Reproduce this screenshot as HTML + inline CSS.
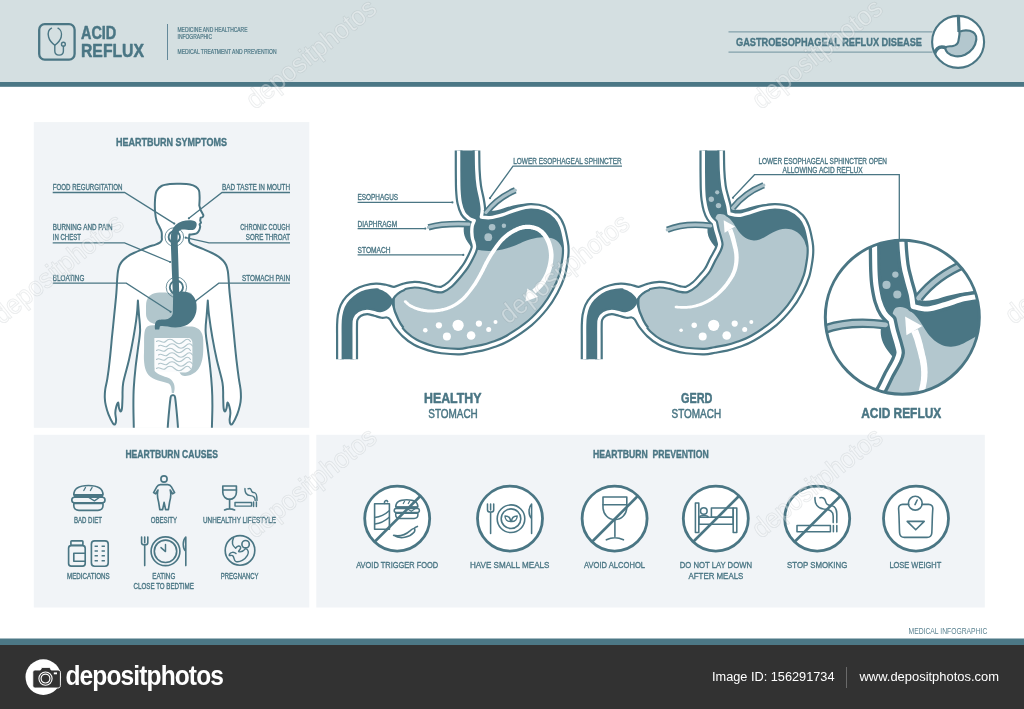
<!DOCTYPE html>
<html lang="en"><head><meta charset="utf-8"><title>Acid Reflux - Gastroesophageal Reflux Disease</title>
<style>
html,body{margin:0;padding:0;background:#fff;}
body{width:1024px;height:709px;overflow:hidden;}
svg{display:block;will-change:transform;font-family:"Liberation Sans",sans-serif;}
</style></head><body>
<svg width="1024" height="709" viewBox="0 0 1024 709">
<rect x="0" y="0" width="1024" height="709" fill="#ffffff"/>
<rect x="0" y="0" width="1024" height="83" fill="#d4dfe1"/>
<rect x="0" y="82" width="1024" height="4.8" fill="#4b7785"/>
<rect x="39.2" y="24.2" width="35.4" height="35.4" rx="5.5" fill="none" stroke="#4a7684" stroke-width="2.3"/>
<g fill="none" stroke="#4a7684" stroke-width="1.4" stroke-linecap="round"><path d="M51.5,28.2 C49,29.5 47.6,33 48.6,37 C49.6,41 52.5,43.5 54.8,45.2 C57.1,43.5 60.2,41 61.2,37 C62.2,33 60.5,29.5 58,28.2"/><path d="M54.8,45.2 L54.8,51 C54.8,56.5 63.4,56.5 63.4,51 L63.4,46.2"/><circle cx="63.4" cy="44.2" r="1.9"/></g>
<text x="81.0" y="38.8" font-size="17.7" font-weight="bold" fill="#4a7684" stroke="#4a7684" stroke-width="0.5" stroke-linejoin="round" textLength="35.3" lengthAdjust="spacingAndGlyphs">ACID</text>
<text x="81.0" y="56.6" font-size="17.7" font-weight="bold" fill="#4a7684" stroke="#4a7684" stroke-width="0.5" stroke-linejoin="round" textLength="63.0" lengthAdjust="spacingAndGlyphs">REFLUX</text>
<rect x="167" y="24" width="1" height="36" fill="#64899a"/>
<text x="177.5" y="31.6" font-size="6.6" fill="#4a7684" stroke="#4a7684" stroke-width="0.2" stroke-linejoin="round" textLength="70.0" lengthAdjust="spacingAndGlyphs">MEDICINE AND HEALTHCARE</text>
<text x="177.5" y="39.0" font-size="6.6" fill="#4a7684" stroke="#4a7684" stroke-width="0.2" stroke-linejoin="round" textLength="34.5" lengthAdjust="spacingAndGlyphs">INFOGRAPHIC</text>
<text x="177.5" y="54.0" font-size="6.6" fill="#4a7684" stroke="#4a7684" stroke-width="0.2" stroke-linejoin="round" textLength="99.0" lengthAdjust="spacingAndGlyphs">MEDICAL TREATMENT AND PREVENTION</text>
<rect x="728.5" y="31.4" width="204" height="1" fill="#6f929d"/>
<rect x="728.5" y="51.6" width="204" height="1" fill="#6f929d"/>
<text x="736.0" y="45.6" font-size="10.6" font-weight="bold" fill="#4a7684" stroke="#4a7684" stroke-width="0.35" stroke-linejoin="round" textLength="186.0" lengthAdjust="spacingAndGlyphs">GASTROESOPHAGEAL REFLUX DISEASE</text>
<circle cx="958.1" cy="41.9" r="26" fill="#ffffff" stroke="#4a7684" stroke-width="2.1"/>
<rect x="33.8" y="122.1" width="275.5" height="305.7" fill="#f1f4f7"/>
<rect x="33.8" y="434.8" width="275.5" height="172.7" fill="#f1f4f7"/>
<rect x="316.3" y="434.8" width="668.5" height="172.7" fill="#f1f4f7"/>
<text x="116.0" y="145.5" font-size="10.1" font-weight="bold" fill="#4a7684" stroke="#4a7684" stroke-width="0.35" stroke-linejoin="round" textLength="111.0" lengthAdjust="spacingAndGlyphs">HEARTBURN SYMPTOMS</text>
<text x="125.4" y="457.8" font-size="10.1" font-weight="bold" fill="#4a7684" stroke="#4a7684" stroke-width="0.35" stroke-linejoin="round" textLength="92.5" lengthAdjust="spacingAndGlyphs">HEARTBURN CAUSES</text>
<text x="593.0" y="457.8" font-size="10.1" font-weight="bold" fill="#4a7684" stroke="#4a7684" stroke-width="0.35" stroke-linejoin="round" textLength="115.7" lengthAdjust="spacingAndGlyphs" style="white-space:pre">HEARTBURN  PREVENTION</text>
<defs><clipPath id="sp"><rect x="33.8" y="122.1" width="275.5" height="305.7"/></clipPath></defs>
<g clip-path="url(#sp)">
<path d="M161.8,237.7C161.8,236.8 162.0,233.8 161.6,232.0C161.2,230.2 160.3,228.8 159.5,227.0C158.7,225.2 157.3,223.5 156.6,221.0C155.9,218.5 155.4,215.5 155.1,212.0C154.8,208.5 154.8,203.5 155.0,200.0C155.2,196.5 155.5,193.3 156.6,191.0C157.7,188.7 159.3,187.2 161.5,186.0C163.7,184.8 166.9,184.4 170.0,184.0C173.1,183.6 176.7,183.6 180.0,183.7C183.3,183.8 187.3,183.9 190.0,184.4C192.7,184.9 194.5,185.8 196.0,186.8C197.5,187.8 198.4,188.8 199.0,190.5C199.6,192.2 199.5,194.5 199.6,197.0C199.7,199.5 199.4,204.1 199.3,205.5L200.6,210 L203.3,215 C203.6,216.6 202.6,217.6 200.6,217.8 L200.2,220.5 L201,222.6 L199.6,224.4 L200.2,226.6 C199.8,229.6 199,231.8 196.6,233.3 C194.6,234.4 191.8,234.3 189.4,234.6 L188.9,240L188.9,240.0C189.0,240.4 189.0,241.8 189.6,242.6C190.2,243.4 191.1,243.9 192.5,244.6C193.9,245.3 195.9,246.1 198.0,247.0C200.1,247.9 202.7,248.8 205.0,249.8C207.3,250.8 209.8,251.9 212.0,253.0C214.2,254.1 216.7,255.4 218.5,256.6C220.3,257.9 221.7,259.1 223.0,260.5C224.3,261.9 225.3,263.2 226.1,265.0C226.9,266.8 227.4,268.7 227.8,271.0C228.2,273.3 228.3,275.4 228.6,279.0C228.9,282.6 229.0,286.6 229.6,292.6C230.2,298.6 231.2,307.6 232.0,315.1C232.8,322.6 233.4,330.2 234.2,337.7C234.9,345.2 235.7,353.5 236.5,360.3C237.3,367.1 238.1,373.4 238.8,378.3C239.5,383.2 240.2,386.3 240.6,389.6C240.9,392.9 241.0,395.4 240.9,398.0C240.8,400.6 240.5,402.7 239.9,405.4C239.3,408.1 238.4,411.4 237.2,414.4C236.0,417.4 233.8,421.9 232.7,423.5C231.6,425.1 231.0,424.6 230.5,424.0C230.0,423.4 229.6,421.8 229.6,420.0C229.6,418.2 230.4,415.2 230.4,413.0C230.4,410.8 230.0,408.8 229.5,407.0C229.0,405.2 228.0,402.3 227.5,402.5C227.0,402.7 227.0,406.5 226.6,408.0C226.2,409.5 225.5,411.5 225.0,411.5C224.5,411.5 223.9,410.2 223.6,408.0C223.3,405.8 223.4,402.2 223.2,398.0C223.0,393.8 223.6,389.1 222.5,382.8C221.4,376.5 218.6,367.8 216.9,360.3C215.2,352.8 213.7,345.2 212.4,337.7C211.1,330.2 209.8,321.3 209.0,315.1C208.2,308.9 208.0,302.9 207.8,300.5L207.8,300.5C207.6,302.9 207.1,310.0 206.7,315.1C206.3,320.2 205.4,325.4 205.6,331.0C205.8,336.6 207.1,343.0 207.8,349.0C208.6,355.0 209.4,360.6 210.1,367.0C210.8,373.4 211.5,381.0 211.9,387.4C212.3,393.8 212.4,398.6 212.4,405.4C212.4,412.2 212.0,422.2 211.9,428.0C211.8,433.8 211.9,438.0 211.9,440.0L178.6,440.0C178.5,438.0 178.3,433.0 178.0,428.0C177.7,423.0 177.0,415.1 176.5,410.0C176.0,404.9 175.5,399.9 175.1,397.5C174.7,395.1 174.6,396.0 174.2,395.6C173.8,395.2 173.1,395.3 172.9,395.2L172.9,395.2C172.7,395.3 172.0,395.2 171.6,395.6C171.2,396.0 171.0,395.1 170.6,397.5C170.2,399.9 169.7,404.9 169.2,410.0C168.7,415.1 168.0,423.0 167.7,428.0C167.3,433.0 167.2,438.0 167.1,440.0L133.8,440.0C133.8,438.0 133.9,433.8 133.8,428.0C133.7,422.2 133.4,412.2 133.4,405.4C133.4,398.6 133.4,393.8 133.8,387.4C134.2,381.0 134.9,373.4 135.6,367.0C136.3,360.6 137.2,355.0 137.9,349.0C138.7,343.0 139.9,336.6 140.1,331.0C140.3,325.4 139.4,320.2 139.0,315.1C138.6,310.0 138.1,302.9 137.9,300.5L137.9,300.5C137.7,302.9 137.6,308.9 136.8,315.1C136.1,321.3 134.7,330.2 133.4,337.7C132.1,345.2 130.6,352.8 128.9,360.3C127.2,367.8 124.3,376.5 123.2,382.8C122.1,389.1 122.7,393.8 122.5,398.0C122.3,402.2 122.3,405.8 122.0,408.0C121.7,410.2 121.1,411.5 120.6,411.5C120.1,411.5 119.4,409.5 119.0,408.0C118.6,406.5 118.7,402.7 118.2,402.5C117.7,402.3 116.7,405.2 116.2,407.0C115.7,408.8 115.3,410.8 115.3,413.0C115.3,415.2 116.1,418.2 116.1,420.0C116.1,421.8 115.7,423.4 115.2,424.0C114.7,424.6 114.1,425.1 113.0,423.5C111.9,421.9 109.7,417.4 108.5,414.4C107.3,411.4 106.4,408.1 105.8,405.4C105.2,402.7 104.9,400.6 104.8,398.0C104.7,395.4 104.8,392.9 105.2,389.6C105.6,386.3 106.7,383.2 107.4,378.3C108.2,373.4 109.0,367.1 109.7,360.3C110.5,353.5 111.2,345.2 111.9,337.7C112.7,330.2 113.5,322.6 114.2,315.1C115.0,307.6 115.9,298.6 116.4,292.6C116.9,286.6 116.9,282.6 117.2,279.0C117.5,275.4 117.6,273.3 118.0,271.0C118.4,268.7 118.9,266.8 119.7,265.0C120.5,263.2 121.5,261.9 122.8,260.5C124.1,259.1 125.5,257.9 127.3,256.6C129.1,255.4 131.5,254.1 133.8,253.0C136.1,251.9 138.6,250.8 141.0,249.8C143.4,248.8 145.6,247.9 148.0,247.0C150.4,246.1 153.5,245.3 155.5,244.6C157.5,243.9 158.8,243.4 159.8,242.6C160.9,241.8 161.5,240.8 161.8,240.0C162.1,239.2 161.8,238.1 161.8,237.7Z" fill="#ffffff" stroke="#4a7684" stroke-width="2" stroke-linejoin="round"/>
<path d="M146,306 C146,298 150,293.5 157,292.8 C164,292.2 170,293 176,294 L176,322 C170,324.5 162,324.5 156,324 C150,323.5 146.2,320 146,314Z" fill="#b1c6cc"/>
<path d="M186,292.6 C189,291.6 192,292.6 192.4,295.6 L192,300 L186,300Z" fill="#b1c6cc"/>
<path d="M148.5,375 C144.5,370 143.5,362 144,352 C144.4,344 143.5,336 145,330 C146.5,325.6 150,324.6 156,325.4 C166,326.6 184,325.6 192,326.6 C199,327.6 203,332 203.2,340 C203.4,350 203.6,358 200.6,365 C198,371 194,374 188.6,375.6 C184,377 180,375 179.6,372 L179.6,338 L154.6,338 L154.6,371 C158,375 164,376 168.6,378 C172.6,380 175,384 174.6,389 L174,393 L171.8,393 C171.6,389 171.4,385.6 168.6,383.6 C163,381 153,380.6 148.5,375Z" fill="#b1c6cc"/>
<path d="M154.6,338 L188,338 C191,338 192.4,340 192.4,343 L192.4,364 C192.4,369 189,372.6 184,372.6 L160,371.6 C156.6,371.4 154.6,369 154.6,366Z" fill="#fbfcfd"/>
<path d="M156.5,341.5 c3,-3 6,3 9,0 s6,-3 9,0 s6,3 9,0 s5,-3 7,0 M158.5,346 c3,-3 6,3 9,0 s6,-3 9,0 s6,3 9,0 s5,-3 7,0 M156.5,350.5 c3,-3 6,3 9,0 s6,-3 9,0 s6,3 9,0 s5,-3 7,0 M158.5,355 c3,-3 6,3 9,0 s6,-3 9,0 s6,3 9,0 s5,-3 7,0 M156.5,359.5 c3,-3 6,3 9,0 s6,-3 9,0 s6,3 9,0 s5,-3 7,0 M158.5,364 c3,-3 6,3 9,0 s6,-3 9,0 s6,3 9,0 s5,-3 7,0 M156.5,368.5 c3,-3 6,3 9,0 s6,-3 9,0 s6,3 9,0 s5,-3 7,0 " fill="none" stroke="#b1c6cc" stroke-width="1.1" stroke-linecap="round"/>
<path d="M196.6,223.6 C197,226 195.5,229.6 192.5,230 C188,230.6 183.5,228.6 180.5,230 C177.8,231.6 177.5,235 177.6,239 L178.6,270 L179.2,293 L172.8,293 L171.8,270 L170.7,240 C170.5,234 172,228.5 175.6,225 C179.6,221.4 184.5,220.2 189.5,220.2 C193.5,220.2 196.2,221 196.6,223.6Z" fill="#4a7684"/>
<path d="M173.2,292 L179,292 C183,291 188,291.6 191.6,294.6 C195.6,298 197,303 196.6,309 C196,317 191.6,323 185.6,325.6 C180,328 173,327.8 167.6,326.6 C164.6,326 162,325.6 160,326.2 C159.5,327.2 159.6,328.6 159.2,329.4 L155,329.4 C154.6,326.6 154.6,323 156.4,321 C158.4,319 162,319.6 165,319.4 C169,319.2 172.2,317 172.8,313 Z" fill="#4a7684"/>
<circle cx="174.3" cy="237" r="5.7" fill="none" stroke="#4a7684" stroke-width="1.9"/>
<circle cx="174.3" cy="237" r="9.3" fill="none" stroke="#4a7684" stroke-width="0.8"/>
<circle cx="176.4" cy="287.3" r="6.6" fill="none" stroke="#4a7684" stroke-width="1.9"/>
<circle cx="176.4" cy="287.3" r="10.2" fill="none" stroke="#4a7684" stroke-width="0.8"/>
</g>
<text x="52.7" y="190.3" font-size="8.4" fill="#4a7684" stroke="#4a7684" stroke-width="0.35" stroke-linejoin="round" textLength="69.7" lengthAdjust="spacingAndGlyphs">FOOD REGURGITATION</text>
<path d="M52.7,192.5 H124.6 L174.3,223.6" stroke="#4a7684" stroke-width="1.3" fill="none"/><circle cx="174.3" cy="223.6" r="1.1" fill="#4a7684"/>
<text x="52.7" y="230.2" font-size="8.4" fill="#4a7684" stroke="#4a7684" stroke-width="0.35" stroke-linejoin="round" textLength="59.8" lengthAdjust="spacingAndGlyphs">BURNING AND PAIN</text>
<text x="52.7" y="239.9" font-size="8.4" fill="#4a7684" stroke="#4a7684" stroke-width="0.35" stroke-linejoin="round" textLength="28.3" lengthAdjust="spacingAndGlyphs">IN CHEST</text>
<path d="M52.7,242.8 H124.6 L170.2,262" stroke="#4a7684" stroke-width="1.3" fill="none"/><circle cx="170.2" cy="262" r="1.1" fill="#4a7684"/>
<text x="52.7" y="281.0" font-size="8.4" fill="#4a7684" stroke="#4a7684" stroke-width="0.35" stroke-linejoin="round" textLength="31.7" lengthAdjust="spacingAndGlyphs">BLOATING</text>
<path d="M52.7,283.2 H126.3 L170.6,311.8" stroke="#4a7684" stroke-width="1.3" fill="none"/><circle cx="170.6" cy="311.8" r="1.1" fill="#4a7684"/>
<text x="222.0" y="190.3" font-size="8.4" fill="#4a7684" stroke="#4a7684" stroke-width="0.35" stroke-linejoin="round" textLength="68.0" lengthAdjust="spacingAndGlyphs">BAD TASTE IN MOUTH</text>
<path d="M290,192.5 H222 L188.9,218.3" stroke="#4a7684" stroke-width="1.3" fill="none"/><circle cx="188.9" cy="218.3" r="1.1" fill="#4a7684"/>
<text x="240.2" y="230.2" font-size="8.4" fill="#4a7684" stroke="#4a7684" stroke-width="0.35" stroke-linejoin="round" textLength="49.8" lengthAdjust="spacingAndGlyphs">CHRONIC COUGH</text>
<text x="245.8" y="239.9" font-size="8.4" fill="#4a7684" stroke="#4a7684" stroke-width="0.35" stroke-linejoin="round" textLength="44.2" lengthAdjust="spacingAndGlyphs">SORE THROAT</text>
<path d="M290,242.8 H209 L185.7,237.7" stroke="#4a7684" stroke-width="1.3" fill="none"/><circle cx="185.7" cy="237.7" r="1.1" fill="#4a7684"/>
<text x="242.0" y="281.0" font-size="8.4" fill="#4a7684" stroke="#4a7684" stroke-width="0.35" stroke-linejoin="round" textLength="48.0" lengthAdjust="spacingAndGlyphs">STOMACH PAIN</text>
<path d="M290,283.2 H218.8 L195.5,301" stroke="#4a7684" stroke-width="1.3" fill="none"/><circle cx="195.5" cy="301" r="1.1" fill="#4a7684"/>
<g id="healthy"><g transform="translate(0,0)">
<defs><clipPath id="cut1"><rect x="320" y="150.6" width="270" height="208.6"/></clipPath><clipPath id="in1"><path d="M458.6,146.0C458.6,150.0 458.6,162.7 458.6,170.0C458.7,177.3 458.6,184.5 458.9,190.0C459.2,195.5 459.5,199.2 460.3,203.0C461.1,206.8 462.4,210.5 463.8,213.0C465.2,215.5 466.8,216.7 468.5,218.0C470.2,219.3 473.2,220.2 474.2,220.6L474.2,220.6C473.9,221.5 472.6,224.1 472.2,226.0C471.8,227.9 471.8,229.9 471.8,232.0C471.9,234.1 472.1,236.6 472.5,238.5C472.9,240.4 473.7,242.1 474.0,243.5C474.3,244.9 474.6,245.8 474.5,247.0C474.4,248.2 474.1,249.3 473.4,251.0C472.7,252.7 471.6,255.1 470.5,257.3C469.4,259.5 467.9,262.4 466.6,264.4C465.4,266.4 464.4,267.7 463.0,269.5C461.6,271.3 460.7,272.7 458.5,275.2C456.3,277.7 452.8,282.0 450.0,284.4C447.2,286.8 444.6,288.6 442.0,289.4C439.4,290.1 437.4,289.4 434.6,288.9C431.9,288.4 428.9,286.9 425.5,286.2C422.1,285.5 418.2,284.6 414.5,284.7C410.8,284.8 406.7,285.8 403.3,286.6C399.9,287.4 397.2,289.5 394.2,289.6C391.3,289.8 388.5,288.0 385.5,287.5C382.5,287.0 379.5,286.4 376.1,286.5C372.7,286.6 368.6,287.3 365.3,288.2C362.0,289.1 359.0,290.4 356.2,292.1C353.4,293.9 350.5,296.3 348.3,298.7C346.1,301.1 344.5,303.5 343.2,306.3C341.9,309.1 341.2,312.5 340.6,315.6C340.1,318.7 340.0,320.9 339.9,325.0C339.8,329.1 339.9,333.5 339.9,340.0C339.9,346.5 339.9,360.0 339.9,364.0L354.2,364.0C354.2,360.0 354.2,346.3 354.2,340.0C354.2,333.7 354.1,329.5 354.2,326.0C354.3,322.5 354.0,320.9 354.9,318.8C355.8,316.7 357.6,314.6 359.6,313.4C361.6,312.2 364.5,311.5 367.0,311.4C369.5,311.3 372.3,312.4 374.8,313.0C377.3,313.6 379.9,314.7 382.0,315.0C384.1,315.3 385.8,314.1 387.5,314.6C389.2,315.1 390.8,316.0 392.3,317.8C393.8,319.6 394.6,322.4 396.7,325.2C398.8,327.9 401.5,331.4 404.6,334.3C407.7,337.2 411.3,340.1 415.4,342.3C419.4,344.5 424.5,346.3 428.9,347.7C433.2,349.1 436.4,349.9 441.5,350.5C446.6,351.1 454.8,351.7 459.5,351.6C464.2,351.5 466.3,350.6 470.0,350.0C473.7,349.4 477.8,348.8 481.7,347.9C485.6,347.0 489.0,346.0 493.4,344.4C497.8,342.8 501.9,341.7 508.0,338.1C514.1,334.5 523.9,328.0 530.0,322.9C536.1,317.8 540.6,312.6 544.8,307.4C549.0,302.2 552.2,296.8 555.0,291.6C557.8,286.4 560.1,281.3 561.8,276.0C563.5,270.7 564.3,264.3 565.0,260.0C565.7,255.7 565.8,252.9 565.8,250.0C565.8,247.1 565.8,246.2 565.1,242.3C564.4,238.4 563.0,231.0 561.5,226.8C560.0,222.6 558.7,219.9 555.9,217.0C553.1,214.1 548.8,210.9 544.6,209.2C540.4,207.5 535.2,206.8 530.5,206.9C525.8,207.0 521.1,208.6 516.4,209.9C511.7,211.2 506.7,213.5 502.3,214.8C497.9,216.1 493.5,217.2 490.0,217.6C486.5,218.0 482.8,217.1 481.3,217.0L481.3,217.0C481.5,215.7 482.4,212.1 482.3,209.0C482.2,205.9 481.5,202.3 480.8,198.5C480.1,194.7 478.9,190.8 478.2,186.0C477.5,181.2 477.1,176.7 476.8,170.0C476.5,163.3 476.5,150.0 476.4,146.0Z"/></clipPath></defs>
<g clip-path="url(#cut1)">
<path d="M483,209 C488,212 496,211 503,208.5 C512,205.5 520,203.5 530,203.6 L530,208 L500,218 L482,219Z" fill="#4a7684"/>
<path d="M467,221 C463.4,224 463,230 464.6,236 C466,240.5 469,243.8 471.6,247.4 L475,246 L474,222Z" fill="#4a7684"/>
<path d="M458.6,146.0C458.6,150.0 458.6,162.7 458.6,170.0C458.7,177.3 458.6,184.5 458.9,190.0C459.2,195.5 459.5,199.2 460.3,203.0C461.1,206.8 462.4,210.5 463.8,213.0C465.2,215.5 466.8,216.7 468.5,218.0C470.2,219.3 473.2,220.2 474.2,220.6L474.2,220.6C473.9,221.5 472.6,224.1 472.2,226.0C471.8,227.9 471.8,229.9 471.8,232.0C471.9,234.1 472.1,236.6 472.5,238.5C472.9,240.4 473.7,242.1 474.0,243.5C474.3,244.9 474.6,245.8 474.5,247.0C474.4,248.2 474.1,249.3 473.4,251.0C472.7,252.7 471.6,255.1 470.5,257.3C469.4,259.5 467.9,262.4 466.6,264.4C465.4,266.4 464.4,267.7 463.0,269.5C461.6,271.3 460.7,272.7 458.5,275.2C456.3,277.7 452.8,282.0 450.0,284.4C447.2,286.8 444.6,288.6 442.0,289.4C439.4,290.1 437.4,289.4 434.6,288.9C431.9,288.4 428.9,286.9 425.5,286.2C422.1,285.5 418.2,284.6 414.5,284.7C410.8,284.8 406.7,285.8 403.3,286.6C399.9,287.4 397.2,289.5 394.2,289.6C391.3,289.8 388.5,288.0 385.5,287.5C382.5,287.0 379.5,286.4 376.1,286.5C372.7,286.6 368.6,287.3 365.3,288.2C362.0,289.1 359.0,290.4 356.2,292.1C353.4,293.9 350.5,296.3 348.3,298.7C346.1,301.1 344.5,303.5 343.2,306.3C341.9,309.1 341.2,312.5 340.6,315.6C340.1,318.7 340.0,320.9 339.9,325.0C339.8,329.1 339.9,333.5 339.9,340.0C339.9,346.5 339.9,360.0 339.9,364.0L354.2,364.0C354.2,360.0 354.2,346.3 354.2,340.0C354.2,333.7 354.1,329.5 354.2,326.0C354.3,322.5 354.0,320.9 354.9,318.8C355.8,316.7 357.6,314.6 359.6,313.4C361.6,312.2 364.5,311.5 367.0,311.4C369.5,311.3 372.3,312.4 374.8,313.0C377.3,313.6 379.9,314.7 382.0,315.0C384.1,315.3 385.8,314.1 387.5,314.6C389.2,315.1 390.8,316.0 392.3,317.8C393.8,319.6 394.6,322.4 396.7,325.2C398.8,327.9 401.5,331.4 404.6,334.3C407.7,337.2 411.3,340.1 415.4,342.3C419.4,344.5 424.5,346.3 428.9,347.7C433.2,349.1 436.4,349.9 441.5,350.5C446.6,351.1 454.8,351.7 459.5,351.6C464.2,351.5 466.3,350.6 470.0,350.0C473.7,349.4 477.8,348.8 481.7,347.9C485.6,347.0 489.0,346.0 493.4,344.4C497.8,342.8 501.9,341.7 508.0,338.1C514.1,334.5 523.9,328.0 530.0,322.9C536.1,317.8 540.6,312.6 544.8,307.4C549.0,302.2 552.2,296.8 555.0,291.6C557.8,286.4 560.1,281.3 561.8,276.0C563.5,270.7 564.3,264.3 565.0,260.0C565.7,255.7 565.8,252.9 565.8,250.0C565.8,247.1 565.8,246.2 565.1,242.3C564.4,238.4 563.0,231.0 561.5,226.8C560.0,222.6 558.7,219.9 555.9,217.0C553.1,214.1 548.8,210.9 544.6,209.2C540.4,207.5 535.2,206.8 530.5,206.9C525.8,207.0 521.1,208.6 516.4,209.9C511.7,211.2 506.7,213.5 502.3,214.8C497.9,216.1 493.5,217.2 490.0,217.6C486.5,218.0 482.8,217.1 481.3,217.0L481.3,217.0C481.5,215.7 482.4,212.1 482.3,209.0C482.2,205.9 481.5,202.3 480.8,198.5C480.1,194.7 478.9,190.8 478.2,186.0C477.5,181.2 477.1,176.7 476.8,170.0C476.5,163.3 476.5,150.0 476.4,146.0Z" fill="#4a7684"/>
<g clip-path="url(#in1)">
<path d="M470.0,252.0C470.9,251.6 473.5,249.8 475.5,249.6C477.5,249.4 479.6,250.4 482.0,250.6C484.4,250.8 487.3,251.1 490.0,251.0C492.7,250.9 495.2,250.6 498.0,250.2C500.8,249.8 503.9,249.2 507.0,248.3C510.1,247.4 513.6,246.1 516.4,245.0C519.2,243.9 521.6,242.5 524.0,241.6C526.4,240.7 528.3,240.0 530.5,239.3C532.7,238.7 534.8,238.0 537.0,237.7C539.2,237.3 541.2,237.1 543.5,237.2C545.8,237.2 548.8,237.4 551.0,238.0C553.2,238.6 554.9,239.3 556.5,240.5C558.1,241.7 559.4,243.4 560.5,245.0C561.6,246.6 562.1,248.2 563.0,250.0C563.9,251.8 564.5,254.0 566.0,256.0C567.5,258.0 571.0,261.0 572.0,262.0L575,262 L575,365 L394.8,365 L394.8,270 L455,270 L460,250 Z" fill="#b3c7ce"/>
<path d="M404.4,302.7L404.7,302.9L405.1,303.3L405.7,303.8L406.3,304.4L406.9,305.0L407.7,305.6L408.5,306.2L409.2,306.7L410.1,307.2L410.9,307.7L411.8,308.1L412.8,308.6L413.7,309.0L414.7,309.4L415.6,309.7L416.5,310.1L417.4,310.4L418.3,310.7L419.2,310.9L420.1,311.1L421.0,311.4L421.9,311.5L422.8,311.7L423.8,311.9L424.7,312.0L425.7,312.2L426.6,312.3L427.6,312.4L428.6,312.4L429.6,312.5L430.6,312.5L431.6,312.5L432.7,312.5L433.8,312.5L434.9,312.4L436.0,312.3L437.1,312.2L438.2,312.0L439.2,311.9L440.3,311.7L441.2,311.6L442.2,311.4L443.1,311.2L444.0,311.0L444.9,310.8L445.8,310.5L446.8,310.2L447.7,309.9L448.7,309.6L449.7,309.2L450.7,308.8L451.7,308.3L452.8,307.9L453.8,307.3L454.8,306.8L455.8,306.2L456.9,305.6L457.9,304.9L458.9,304.2L460.0,303.5L461.0,302.7L462.0,301.9L463.0,301.1L463.9,300.2L464.9,299.4L465.8,298.4L466.7,297.5L467.6,296.5L468.4,295.5L469.2,294.5L470.0,293.6L470.8,292.6L471.6,291.6L472.4,290.6L473.1,289.6L473.9,288.6L474.6,287.6L475.3,286.6L476.1,285.5L476.8,284.4L477.5,283.2L478.3,282.0L479.0,280.7L479.7,279.5L480.5,278.2L481.2,276.9L481.9,275.6L482.6,274.4L483.3,273.0L484.0,271.7L484.7,270.4L485.3,269.0L486.0,267.7L486.7,266.4L487.3,265.1L488.0,263.9L488.6,262.7L489.2,261.5L489.9,260.4L490.5,259.3L491.2,258.2L491.8,257.1L492.5,256.1L493.1,255.0L493.8,254.0L494.5,253.0L495.2,251.9L495.8,250.9L496.5,250.0L497.2,249.0L497.9,248.1L498.6,247.2L499.2,246.3L499.9,245.4L500.5,244.6L501.1,243.8L501.7,243.1L502.4,242.3L503.0,241.6L503.7,240.9L504.5,240.2L505.2,239.5L506.0,238.7L506.8,238.0L507.7,237.4L508.5,236.7L509.3,236.1L510.2,235.5L511.0,234.9L511.9,234.3L512.8,233.8L513.8,233.3L514.7,232.8L515.6,232.3L516.5,231.9L517.3,231.5L518.1,231.1L518.8,230.8L519.4,230.5L520.0,230.3L520.6,230.1L521.3,229.9L521.9,229.7L522.5,229.5L523.2,229.4L523.8,229.3L524.5,229.2L525.1,229.1L525.7,229.0L526.4,229.0L527.0,228.9L527.7,228.9L528.3,229.0L529.0,229.0L529.7,229.1L530.3,229.1L531.0,229.2L531.6,229.4L532.3,229.5L533.0,229.7L533.6,229.9L534.3,230.1L534.9,230.3L535.5,230.5L536.1,230.8L536.7,231.0L537.3,231.3L537.9,231.7L538.4,232.0L539.0,232.4L539.5,232.9L540.1,233.3L540.6,233.8L541.1,234.4L541.6,234.9L542.1,235.4L542.6,236.0L543.0,236.6L543.5,237.2L543.9,237.8L544.3,238.5L544.7,239.1L545.0,239.8L545.4,240.5L545.7,241.2L546.1,241.9L546.4,242.7L546.7,243.4L547.0,244.2L547.2,245.0L547.5,245.8L547.7,246.6L547.9,247.4L548.1,248.3L548.3,249.2L548.5,250.2L548.6,251.1L548.7,252.0L548.8,252.9L548.9,253.8L548.9,254.6L549.0,255.4L548.9,256.2L548.9,256.9L548.9,257.7L548.8,258.5L548.7,259.4L548.6,260.2L548.5,261.1L548.3,262.0L548.2,262.8L548.0,263.7L547.8,264.6L547.6,265.5L547.4,266.4L547.1,267.3L546.8,268.3L546.5,269.3L546.1,270.4L545.8,271.4L545.4,272.4L545.0,273.5L544.5,274.5L544.0,275.4L543.5,276.4L543.0,277.4L542.5,278.3L541.9,279.2L541.3,280.2L540.7,281.1L540.0,282.0L539.3,282.8L538.5,283.7L537.6,284.7L536.6,285.7L535.6,286.7L534.6,287.6L533.6,288.5L532.9,289.2L532.3,289.8L535.7,293.4L536.3,292.9L537.0,292.1L538.0,291.3L539.0,290.3L540.1,289.2L541.2,288.1L542.2,287.0L543.1,286.0L543.9,284.9L544.6,283.9L545.3,282.9L546.0,281.8L546.6,280.8L547.2,279.7L547.8,278.6L548.4,277.6L548.9,276.5L549.4,275.3L549.8,274.2L550.3,273.0L550.7,271.9L551.0,270.8L551.4,269.7L551.7,268.7L552.0,267.6L552.2,266.6L552.4,265.6L552.6,264.6L552.8,263.6L553.0,262.7L553.1,261.7L553.2,260.8L553.3,259.9L553.4,259.0L553.5,258.1L553.5,257.2L553.6,256.3L553.6,255.3L553.6,254.4L553.5,253.4L553.4,252.5L553.3,251.4L553.2,250.4L553.0,249.4L552.8,248.4L552.6,247.4L552.3,246.4L552.1,245.4L551.8,244.5L551.5,243.6L551.2,242.7L550.9,241.8L550.5,240.9L550.2,240.1L549.8,239.3L549.4,238.5L549.0,237.7L548.5,236.9L548.1,236.1L547.6,235.4L547.1,234.7L546.6,233.9L546.0,233.2L545.5,232.6L544.9,231.9L544.3,231.3L543.6,230.6L543.0,230.0L542.3,229.5L541.6,228.9L540.9,228.4L540.1,227.9L539.4,227.5L538.6,227.1L537.9,226.8L537.1,226.5L536.3,226.2L535.6,225.9L534.8,225.7L534.0,225.5L533.3,225.3L532.5,225.2L531.7,225.0L530.9,224.9L530.1,224.8L529.3,224.7L528.5,224.7L527.7,224.7L526.9,224.7L526.1,224.7L525.4,224.8L524.6,224.9L523.8,225.0L523.0,225.1L522.3,225.3L521.5,225.5L520.7,225.7L520.0,225.9L519.3,226.1L518.6,226.4L517.8,226.7L517.1,227.0L516.3,227.3L515.5,227.7L514.6,228.2L513.7,228.6L512.8,229.1L511.8,229.7L510.8,230.2L509.8,230.8L508.8,231.5L507.8,232.1L506.9,232.8L506.0,233.5L505.1,234.2L504.2,235.0L503.3,235.7L502.5,236.5L501.7,237.3L500.9,238.1L500.1,238.9L499.4,239.7L498.7,240.5L498.0,241.4L497.4,242.2L496.7,243.1L496.1,243.9L495.4,244.8L494.7,245.8L494.0,246.7L493.3,247.7L492.6,248.7L491.9,249.8L491.2,250.8L490.6,251.9L489.9,253.0L489.2,254.1L488.5,255.2L487.9,256.3L487.2,257.4L486.6,258.5L486.0,259.7L485.3,260.9L484.6,262.1L484.0,263.4L483.3,264.7L482.7,266.0L482.0,267.4L481.4,268.7L480.7,270.1L480.1,271.4L479.4,272.6L478.7,273.9L478.0,275.2L477.3,276.5L476.6,277.7L475.9,278.9L475.2,280.1L474.5,281.3L473.8,282.4L473.1,283.5L472.4,284.6L471.7,285.6L471.0,286.6L470.3,287.6L469.6,288.5L468.9,289.5L468.2,290.4L467.4,291.4L466.6,292.4L465.8,293.3L465.0,294.3L464.2,295.2L463.4,296.1L462.5,296.9L461.7,297.8L460.8,298.6L459.9,299.3L458.9,300.1L458.0,300.8L457.0,301.5L456.1,302.2L455.1,302.8L454.2,303.4L453.2,303.9L452.3,304.5L451.3,304.9L450.4,305.4L449.5,305.8L448.5,306.2L447.6,306.6L446.7,306.9L445.8,307.2L444.9,307.5L444.1,307.7L443.3,307.9L442.4,308.1L441.6,308.3L440.7,308.5L439.7,308.7L438.8,308.8L437.8,309.0L436.7,309.1L435.7,309.2L434.6,309.3L433.6,309.4L432.6,309.4L431.6,309.5L430.6,309.5L429.7,309.5L428.8,309.4L427.8,309.4L426.9,309.3L426.0,309.2L425.1,309.1L424.2,308.9L423.4,308.8L422.5,308.6L421.6,308.5L420.8,308.3L420.0,308.1L419.1,307.8L418.3,307.6L417.5,307.3L416.6,307.0L415.7,306.7L414.8,306.3L414.0,305.9L413.1,305.5L412.2,305.1L411.5,304.7L410.8,304.3L410.1,303.9L409.4,303.4L408.8,302.8L408.2,302.3L407.6,301.8L407.0,301.3L406.6,300.9L406.2,300.5Z" fill="#fff"/><circle cx="405.3" cy="301.6" r="1.40" fill="#fff"/>
<path d="M527.4,288.6 L538.2,296.8 L525.4,301.4 Z" fill="#fff"/>
<circle cx="425.3" cy="330.3" r="2.3" fill="#fff"/>
<circle cx="438.9" cy="325.3" r="3.1" fill="#fff"/>
<circle cx="458.1" cy="325.3" r="5.6" fill="#fff"/>
<circle cx="446.9" cy="336.6" r="4" fill="#fff"/>
<circle cx="478.9" cy="323.6" r="3.1" fill="#fff"/>
<circle cx="471.1" cy="335.5" r="4.3" fill="#fff"/>
<circle cx="488.7" cy="329.6" r="2.5" fill="#fff"/>
<circle cx="495.5" cy="322" r="2" fill="#fff"/>
</g>
<circle cx="492.1" cy="227.3" r="3.3" fill="#a9c0c8"/>
<circle cx="503.9" cy="225.7" r="2.2" fill="#a9c0c8"/>
<circle cx="488.3" cy="237.2" r="3.9" fill="#a9c0c8"/>
<path d="M458.6,146.0C458.6,150.0 458.6,162.7 458.6,170.0C458.7,177.3 458.6,184.5 458.9,190.0C459.2,195.5 459.5,199.2 460.3,203.0C461.1,206.8 462.4,210.5 463.8,213.0C465.2,215.5 466.8,216.7 468.5,218.0C470.2,219.3 473.2,220.2 474.2,220.6L474.2,220.6C473.9,221.5 472.6,224.1 472.2,226.0C471.8,227.9 471.8,229.9 471.8,232.0C471.9,234.1 472.1,236.6 472.5,238.5C472.9,240.4 473.7,242.1 474.0,243.5C474.3,244.9 474.6,245.8 474.5,247.0C474.4,248.2 474.1,249.3 473.4,251.0C472.7,252.7 471.6,255.1 470.5,257.3C469.4,259.5 467.9,262.4 466.6,264.4C465.4,266.4 464.4,267.7 463.0,269.5C461.6,271.3 460.7,272.7 458.5,275.2C456.3,277.7 452.8,282.0 450.0,284.4C447.2,286.8 444.6,288.6 442.0,289.4C439.4,290.1 437.4,289.4 434.6,288.9C431.9,288.4 428.9,286.9 425.5,286.2C422.1,285.5 418.2,284.6 414.5,284.7C410.8,284.8 406.7,285.8 403.3,286.6C399.9,287.4 397.2,289.5 394.2,289.6C391.3,289.8 388.5,288.0 385.5,287.5C382.5,287.0 379.5,286.4 376.1,286.5C372.7,286.6 368.6,287.3 365.3,288.2C362.0,289.1 359.0,290.4 356.2,292.1C353.4,293.9 350.5,296.3 348.3,298.7C346.1,301.1 344.5,303.5 343.2,306.3C341.9,309.1 341.2,312.5 340.6,315.6C340.1,318.7 340.0,320.9 339.9,325.0C339.8,329.1 339.9,333.5 339.9,340.0C339.9,346.5 339.9,360.0 339.9,364.0L354.2,364.0C354.2,360.0 354.2,346.3 354.2,340.0C354.2,333.7 354.1,329.5 354.2,326.0C354.3,322.5 354.0,320.9 354.9,318.8C355.8,316.7 357.6,314.6 359.6,313.4C361.6,312.2 364.5,311.5 367.0,311.4C369.5,311.3 372.3,312.4 374.8,313.0C377.3,313.6 379.9,314.7 382.0,315.0C384.1,315.3 385.8,314.1 387.5,314.6C389.2,315.1 390.8,316.0 392.3,317.8C393.8,319.6 394.6,322.4 396.7,325.2C398.8,327.9 401.5,331.4 404.6,334.3C407.7,337.2 411.3,340.1 415.4,342.3C419.4,344.5 424.5,346.3 428.9,347.7C433.2,349.1 436.4,349.9 441.5,350.5C446.6,351.1 454.8,351.7 459.5,351.6C464.2,351.5 466.3,350.6 470.0,350.0C473.7,349.4 477.8,348.8 481.7,347.9C485.6,347.0 489.0,346.0 493.4,344.4C497.8,342.8 501.9,341.7 508.0,338.1C514.1,334.5 523.9,328.0 530.0,322.9C536.1,317.8 540.6,312.6 544.8,307.4C549.0,302.2 552.2,296.8 555.0,291.6C557.8,286.4 560.1,281.3 561.8,276.0C563.5,270.7 564.3,264.3 565.0,260.0C565.7,255.7 565.8,252.9 565.8,250.0C565.8,247.1 565.8,246.2 565.1,242.3C564.4,238.4 563.0,231.0 561.5,226.8C560.0,222.6 558.7,219.9 555.9,217.0C553.1,214.1 548.8,210.9 544.6,209.2C540.4,207.5 535.2,206.8 530.5,206.9C525.8,207.0 521.1,208.6 516.4,209.9C511.7,211.2 506.7,213.5 502.3,214.8C497.9,216.1 493.5,217.2 490.0,217.6C486.5,218.0 482.8,217.1 481.3,217.0L481.3,217.0C481.5,215.7 482.4,212.1 482.3,209.0C482.2,205.9 481.5,202.3 480.8,198.5C480.1,194.7 478.9,190.8 478.2,186.0C477.5,181.2 477.1,176.7 476.8,170.0C476.5,163.3 476.5,150.0 476.4,146.0Z" fill="none" stroke="#4a7684" stroke-width="7.8" stroke-linejoin="round"/>
<path d="M458.6,146.0C458.6,150.0 458.6,162.7 458.6,170.0C458.7,177.3 458.6,184.5 458.9,190.0C459.2,195.5 459.5,199.2 460.3,203.0C461.1,206.8 462.4,210.5 463.8,213.0C465.2,215.5 466.8,216.7 468.5,218.0C470.2,219.3 473.2,220.2 474.2,220.6L474.2,220.6C473.9,221.5 472.6,224.1 472.2,226.0C471.8,227.9 471.8,229.9 471.8,232.0C471.9,234.1 472.1,236.6 472.5,238.5C472.9,240.4 473.7,242.1 474.0,243.5C474.3,244.9 474.6,245.8 474.5,247.0C474.4,248.2 474.1,249.3 473.4,251.0C472.7,252.7 471.6,255.1 470.5,257.3C469.4,259.5 467.9,262.4 466.6,264.4C465.4,266.4 464.4,267.7 463.0,269.5C461.6,271.3 460.7,272.7 458.5,275.2C456.3,277.7 452.8,282.0 450.0,284.4C447.2,286.8 444.6,288.6 442.0,289.4C439.4,290.1 437.4,289.4 434.6,288.9C431.9,288.4 428.9,286.9 425.5,286.2C422.1,285.5 418.2,284.6 414.5,284.7C410.8,284.8 406.7,285.8 403.3,286.6C399.9,287.4 397.2,289.5 394.2,289.6C391.3,289.8 388.5,288.0 385.5,287.5C382.5,287.0 379.5,286.4 376.1,286.5C372.7,286.6 368.6,287.3 365.3,288.2C362.0,289.1 359.0,290.4 356.2,292.1C353.4,293.9 350.5,296.3 348.3,298.7C346.1,301.1 344.5,303.5 343.2,306.3C341.9,309.1 341.2,312.5 340.6,315.6C340.1,318.7 340.0,320.9 339.9,325.0C339.8,329.1 339.9,333.5 339.9,340.0C339.9,346.5 339.9,360.0 339.9,364.0L354.2,364.0C354.2,360.0 354.2,346.3 354.2,340.0C354.2,333.7 354.1,329.5 354.2,326.0C354.3,322.5 354.0,320.9 354.9,318.8C355.8,316.7 357.6,314.6 359.6,313.4C361.6,312.2 364.5,311.5 367.0,311.4C369.5,311.3 372.3,312.4 374.8,313.0C377.3,313.6 379.9,314.7 382.0,315.0C384.1,315.3 385.8,314.1 387.5,314.6C389.2,315.1 390.8,316.0 392.3,317.8C393.8,319.6 394.6,322.4 396.7,325.2C398.8,327.9 401.5,331.4 404.6,334.3C407.7,337.2 411.3,340.1 415.4,342.3C419.4,344.5 424.5,346.3 428.9,347.7C433.2,349.1 436.4,349.9 441.5,350.5C446.6,351.1 454.8,351.7 459.5,351.6C464.2,351.5 466.3,350.6 470.0,350.0C473.7,349.4 477.8,348.8 481.7,347.9C485.6,347.0 489.0,346.0 493.4,344.4C497.8,342.8 501.9,341.7 508.0,338.1C514.1,334.5 523.9,328.0 530.0,322.9C536.1,317.8 540.6,312.6 544.8,307.4C549.0,302.2 552.2,296.8 555.0,291.6C557.8,286.4 560.1,281.3 561.8,276.0C563.5,270.7 564.3,264.3 565.0,260.0C565.7,255.7 565.8,252.9 565.8,250.0C565.8,247.1 565.8,246.2 565.1,242.3C564.4,238.4 563.0,231.0 561.5,226.8C560.0,222.6 558.7,219.9 555.9,217.0C553.1,214.1 548.8,210.9 544.6,209.2C540.4,207.5 535.2,206.8 530.5,206.9C525.8,207.0 521.1,208.6 516.4,209.9C511.7,211.2 506.7,213.5 502.3,214.8C497.9,216.1 493.5,217.2 490.0,217.6C486.5,218.0 482.8,217.1 481.3,217.0L481.3,217.0C481.5,215.7 482.4,212.1 482.3,209.0C482.2,205.9 481.5,202.3 480.8,198.5C480.1,194.7 478.9,190.8 478.2,186.0C477.5,181.2 477.1,176.7 476.8,170.0C476.5,163.3 476.5,150.0 476.4,146.0Z" fill="none" stroke="#fff" stroke-width="3.4" stroke-linejoin="round"/>
<path d="M378.5,289 C384.5,290.8 389.6,294 392.2,299.2 C394.8,294.6 399,291.4 404.6,289.2 L404,286.6 L394.2,288.6 L379,287Z" fill="#fff"/>
<path d="M392.8,299.8 C395.2,295.2 399.4,292 405,289.8" fill="none" stroke="#4a7684" stroke-width="2.3"/>
<path d="M376,312.2 C383,313.4 389.4,309.6 392.2,303.4 C393.2,308.6 394.8,313.4 398,319.8 C399.4,322.6 401,325 402.8,327.4 L399.6,329.4 L395,322.6 L391,317 L386,316 L376,314.6Z" fill="#fff"/>
<path d="M392.7,303.2 C393.7,308.6 395.3,313.6 398.6,320.2 C400,323 401.6,325.4 403.4,327.8" fill="none" stroke="#4a7684" stroke-width="2.3"/>
</g>
<path d="M428.5,227.3 C438,224.6 450,223.3 469,224.2" fill="none" stroke="#4a7684" stroke-width="6.4" stroke-linecap="butt"/>
<path d="M428.5,227.3 C438,224.6 450,223.3 469,224.2" fill="none" stroke="#a9c0c8" stroke-width="3.2" stroke-linecap="round"/>
<path d="M486,212.6 C493,203.5 503,195.5 515.3,190.3" fill="none" stroke="#4a7684" stroke-width="6.4" stroke-linecap="butt"/>
<path d="M486,212.6 C493,203.5 503,195.5 515.3,190.3" fill="none" stroke="#a9c0c8" stroke-width="3.2" stroke-linecap="round"/>
</g></g>
<g id="gerd"><g transform="translate(244.7,0)">
<defs><clipPath id="cut2"><rect x="320" y="150.6" width="270" height="208.6"/></clipPath><clipPath id="in2"><path d="M458.6,146.0C458.6,150.0 458.6,162.7 458.6,170.0C458.7,177.3 458.7,185.0 458.9,190.0C459.1,195.0 459.2,196.7 459.7,200.0C460.2,203.3 460.8,206.9 461.7,209.9C462.6,212.9 463.8,215.7 465.1,217.8C466.4,219.9 468.9,221.9 469.6,222.7L469.6,222.7C469.9,223.8 470.4,226.8 471.1,229.6C471.8,232.4 473.4,237.0 474.0,239.5C474.6,242.0 475.1,242.8 475.0,244.5C474.9,246.2 474.6,246.9 473.5,249.4C472.4,251.9 469.9,256.0 468.1,259.3C466.4,262.7 464.6,266.9 463.0,269.5C461.4,272.1 460.7,272.7 458.5,275.2C456.3,277.7 452.8,282.0 450.0,284.4C447.2,286.8 444.6,288.6 442.0,289.4C439.4,290.1 437.4,289.4 434.6,288.9C431.9,288.4 428.9,286.9 425.5,286.2C422.1,285.5 418.2,284.6 414.5,284.7C410.8,284.8 406.7,285.8 403.3,286.6C399.9,287.4 397.2,289.5 394.2,289.6C391.3,289.8 388.5,288.0 385.5,287.5C382.5,287.0 379.5,286.4 376.1,286.5C372.7,286.6 368.6,287.3 365.3,288.2C362.0,289.1 359.0,290.4 356.2,292.1C353.4,293.9 350.5,296.3 348.3,298.7C346.1,301.1 344.5,303.5 343.2,306.3C341.9,309.1 341.2,312.5 340.6,315.6C340.1,318.7 340.0,320.9 339.9,325.0C339.8,329.1 339.9,333.5 339.9,340.0C339.9,346.5 339.9,360.0 339.9,364.0L354.2,364.0C354.2,360.0 354.2,346.3 354.2,340.0C354.2,333.7 354.1,329.5 354.2,326.0C354.3,322.5 354.0,320.9 354.9,318.8C355.8,316.7 357.6,314.6 359.6,313.4C361.6,312.2 364.5,311.5 367.0,311.4C369.5,311.3 372.3,312.4 374.8,313.0C377.3,313.6 379.9,314.7 382.0,315.0C384.1,315.3 385.8,314.1 387.5,314.6C389.2,315.1 390.8,316.0 392.3,317.8C393.8,319.6 394.6,322.4 396.7,325.2C398.8,327.9 401.5,331.4 404.6,334.3C407.7,337.2 411.3,340.1 415.4,342.3C419.4,344.5 424.5,346.3 428.9,347.7C433.2,349.1 436.4,349.9 441.5,350.5C446.6,351.1 454.8,351.7 459.5,351.6C464.2,351.5 466.3,350.6 470.0,350.0C473.7,349.4 477.8,348.8 481.7,347.9C485.6,347.0 489.0,346.0 493.4,344.4C497.8,342.8 501.9,341.7 508.0,338.1C514.1,334.5 523.9,328.0 530.0,322.9C536.1,317.8 540.6,312.6 544.8,307.4C549.0,302.2 552.2,296.8 555.0,291.6C557.8,286.4 560.1,281.3 561.8,276.0C563.5,270.7 564.3,264.3 565.0,260.0C565.7,255.7 565.8,252.9 565.8,250.0C565.8,247.1 565.8,246.2 565.1,242.3C564.4,238.4 563.0,231.0 561.5,226.8C560.0,222.6 558.7,219.9 555.9,217.0C553.1,214.1 548.8,210.9 544.6,209.2C540.4,207.5 534.9,207.0 530.5,206.9C526.1,206.8 522.1,207.6 518.0,208.5C513.9,209.4 510.0,211.2 506.0,212.3C502.0,213.4 497.6,215.1 494.0,215.3C490.4,215.5 485.9,213.9 484.3,213.6L484.3,213.6C484.1,212.3 483.8,208.9 483.2,206.0C482.6,203.1 481.3,199.3 480.5,196.0C479.7,192.7 478.8,190.3 478.2,186.0C477.6,181.7 477.1,176.7 476.8,170.0C476.5,163.3 476.5,150.0 476.4,146.0Z"/></clipPath></defs>
<g clip-path="url(#cut2)">
<path d="M485,208 C490,211 497,210 504,207.5 C512,205 520,203.5 530,203.6 L530,208 L500,216 L484,216Z" fill="#4a7684"/>
<path d="M465,223 C462.4,226.5 462.2,231 463.6,236 C465.2,241 468.6,244.6 472,248.6 L476,246 L471,224Z" fill="#4a7684"/>
<path d="M458.6,146.0C458.6,150.0 458.6,162.7 458.6,170.0C458.7,177.3 458.7,185.0 458.9,190.0C459.1,195.0 459.2,196.7 459.7,200.0C460.2,203.3 460.8,206.9 461.7,209.9C462.6,212.9 463.8,215.7 465.1,217.8C466.4,219.9 468.9,221.9 469.6,222.7L469.6,222.7C469.9,223.8 470.4,226.8 471.1,229.6C471.8,232.4 473.4,237.0 474.0,239.5C474.6,242.0 475.1,242.8 475.0,244.5C474.9,246.2 474.6,246.9 473.5,249.4C472.4,251.9 469.9,256.0 468.1,259.3C466.4,262.7 464.6,266.9 463.0,269.5C461.4,272.1 460.7,272.7 458.5,275.2C456.3,277.7 452.8,282.0 450.0,284.4C447.2,286.8 444.6,288.6 442.0,289.4C439.4,290.1 437.4,289.4 434.6,288.9C431.9,288.4 428.9,286.9 425.5,286.2C422.1,285.5 418.2,284.6 414.5,284.7C410.8,284.8 406.7,285.8 403.3,286.6C399.9,287.4 397.2,289.5 394.2,289.6C391.3,289.8 388.5,288.0 385.5,287.5C382.5,287.0 379.5,286.4 376.1,286.5C372.7,286.6 368.6,287.3 365.3,288.2C362.0,289.1 359.0,290.4 356.2,292.1C353.4,293.9 350.5,296.3 348.3,298.7C346.1,301.1 344.5,303.5 343.2,306.3C341.9,309.1 341.2,312.5 340.6,315.6C340.1,318.7 340.0,320.9 339.9,325.0C339.8,329.1 339.9,333.5 339.9,340.0C339.9,346.5 339.9,360.0 339.9,364.0L354.2,364.0C354.2,360.0 354.2,346.3 354.2,340.0C354.2,333.7 354.1,329.5 354.2,326.0C354.3,322.5 354.0,320.9 354.9,318.8C355.8,316.7 357.6,314.6 359.6,313.4C361.6,312.2 364.5,311.5 367.0,311.4C369.5,311.3 372.3,312.4 374.8,313.0C377.3,313.6 379.9,314.7 382.0,315.0C384.1,315.3 385.8,314.1 387.5,314.6C389.2,315.1 390.8,316.0 392.3,317.8C393.8,319.6 394.6,322.4 396.7,325.2C398.8,327.9 401.5,331.4 404.6,334.3C407.7,337.2 411.3,340.1 415.4,342.3C419.4,344.5 424.5,346.3 428.9,347.7C433.2,349.1 436.4,349.9 441.5,350.5C446.6,351.1 454.8,351.7 459.5,351.6C464.2,351.5 466.3,350.6 470.0,350.0C473.7,349.4 477.8,348.8 481.7,347.9C485.6,347.0 489.0,346.0 493.4,344.4C497.8,342.8 501.9,341.7 508.0,338.1C514.1,334.5 523.9,328.0 530.0,322.9C536.1,317.8 540.6,312.6 544.8,307.4C549.0,302.2 552.2,296.8 555.0,291.6C557.8,286.4 560.1,281.3 561.8,276.0C563.5,270.7 564.3,264.3 565.0,260.0C565.7,255.7 565.8,252.9 565.8,250.0C565.8,247.1 565.8,246.2 565.1,242.3C564.4,238.4 563.0,231.0 561.5,226.8C560.0,222.6 558.7,219.9 555.9,217.0C553.1,214.1 548.8,210.9 544.6,209.2C540.4,207.5 534.9,207.0 530.5,206.9C526.1,206.8 522.1,207.6 518.0,208.5C513.9,209.4 510.0,211.2 506.0,212.3C502.0,213.4 497.6,215.1 494.0,215.3C490.4,215.5 485.9,213.9 484.3,213.6L484.3,213.6C484.1,212.3 483.8,208.9 483.2,206.0C482.6,203.1 481.3,199.3 480.5,196.0C479.7,192.7 478.8,190.3 478.2,186.0C477.6,181.7 477.1,176.7 476.8,170.0C476.5,163.3 476.5,150.0 476.4,146.0Z" fill="#4a7684"/>
<g clip-path="url(#in2)">
<path d="M467.0,228.0C467.5,226.7 469.2,222.1 470.0,220.0C470.8,217.9 471.2,216.2 472.0,215.2C472.8,214.2 473.8,214.1 475.0,214.0C476.2,213.9 477.6,214.0 479.0,214.6C480.4,215.2 482.2,216.2 483.5,217.3C484.8,218.4 485.8,219.6 487.0,221.0C488.2,222.4 489.3,224.2 490.5,226.0C491.7,227.8 492.7,229.8 494.0,231.5C495.3,233.2 496.9,234.9 498.5,236.2C500.1,237.5 501.8,238.5 503.5,239.2C505.2,239.9 507.1,240.3 509.0,240.4C510.9,240.5 512.9,240.2 515.0,239.5C517.1,238.8 519.3,237.5 521.5,236.3C523.7,235.2 525.8,233.7 528.0,232.6C530.2,231.5 532.3,230.5 534.5,229.8C536.7,229.2 538.9,228.7 541.0,228.7C543.1,228.7 545.1,229.0 547.0,229.6C548.9,230.2 550.9,231.2 552.5,232.3C554.1,233.4 555.3,234.6 556.5,236.0C557.7,237.4 558.7,238.8 559.5,240.5C560.3,242.2 560.4,243.8 561.5,246.0C562.6,248.2 564.2,251.3 566.0,254.0C567.8,256.7 571.0,260.7 572.0,262.0L575,262 L575,365 L394.8,365 L394.8,270 L455,270 L460,250 Z" fill="#b3c7ce"/>
<path d="M431.1,308.3L431.8,308.3L432.7,308.4L433.8,308.5L435.0,308.6L436.2,308.7L437.5,308.7L438.8,308.8L440.0,308.8L441.2,308.7L442.3,308.7L443.5,308.6L444.6,308.5L445.8,308.4L447.0,308.2L448.1,308.1L449.3,307.8L450.5,307.6L451.7,307.3L452.8,307.0L454.0,306.6L455.2,306.3L456.3,305.9L457.5,305.5L458.6,305.0L459.7,304.6L460.8,304.1L461.8,303.6L462.9,303.1L463.9,302.5L464.9,302.0L465.9,301.4L466.9,300.8L467.9,300.2L468.8,299.5L469.7,298.8L470.7,298.1L471.6,297.4L472.4,296.7L473.3,296.0L474.1,295.3L475.0,294.6L475.8,293.8L476.6,293.1L477.4,292.3L478.1,291.5L478.9,290.8L479.6,290.0L480.4,289.2L481.1,288.4L481.8,287.6L482.4,286.7L483.1,285.9L483.7,285.1L484.4,284.2L485.0,283.4L485.5,282.6L486.1,281.8L486.7,280.9L487.2,280.1L487.8,279.3L488.3,278.5L488.8,277.6L489.3,276.7L489.8,275.9L490.2,275.0L490.6,274.1L491.0,273.2L491.3,272.3L491.7,271.4L492.0,270.4L492.3,269.5L492.6,268.5L492.8,267.5L493.0,266.5L493.2,265.4L493.4,264.4L493.6,263.3L493.7,262.2L493.8,261.2L493.9,260.1L493.9,259.0L494.0,258.0L494.0,256.9L493.9,255.9L493.9,254.8L493.8,253.8L493.7,252.7L493.6,251.7L493.4,250.7L493.3,249.7L493.1,248.7L492.9,247.8L492.7,246.8L492.4,245.9L492.2,245.0L492.0,244.0L491.8,242.9L491.5,241.9L491.2,240.7L491.0,239.6L490.7,238.5L490.4,237.4L490.1,236.3L489.8,235.3L489.5,234.3L489.2,233.3L488.9,232.4L488.5,231.4L488.2,230.6L487.9,229.8L487.7,229.2L487.5,228.8L483.1,230.4L483.2,230.9L483.5,231.6L483.8,232.3L484.1,233.1L484.4,234.0L484.8,234.9L485.1,235.8L485.4,236.7L485.6,237.6L485.9,238.6L486.2,239.7L486.5,240.7L486.8,241.8L487.1,242.9L487.4,244.0L487.6,245.0L487.9,246.0L488.1,247.0L488.3,247.9L488.6,248.8L488.8,249.6L488.9,250.5L489.1,251.4L489.2,252.3L489.4,253.2L489.5,254.2L489.6,255.1L489.6,256.1L489.7,257.0L489.7,258.0L489.7,259.0L489.7,259.9L489.6,260.8L489.6,261.8L489.5,262.8L489.3,263.8L489.2,264.7L489.0,265.7L488.8,266.6L488.6,267.5L488.4,268.4L488.2,269.2L487.9,270.1L487.6,270.9L487.3,271.7L487.0,272.5L486.6,273.3L486.2,274.1L485.9,274.9L485.4,275.7L485.0,276.5L484.5,277.3L484.0,278.0L483.5,278.8L483.0,279.6L482.5,280.4L481.9,281.2L481.3,282.0L480.8,282.9L480.2,283.7L479.5,284.5L478.9,285.3L478.3,286.0L477.6,286.8L477.0,287.6L476.3,288.3L475.6,289.1L474.9,289.8L474.1,290.6L473.4,291.3L472.6,292.0L471.9,292.7L471.1,293.4L470.2,294.1L469.4,294.8L468.6,295.5L467.7,296.1L466.9,296.8L466.0,297.4L465.1,298.0L464.2,298.6L463.3,299.2L462.3,299.7L461.4,300.2L460.4,300.8L459.4,301.2L458.4,301.7L457.4,302.2L456.4,302.6L455.3,303.0L454.2,303.4L453.1,303.8L452.0,304.1L450.9,304.4L449.8,304.7L448.7,305.0L447.6,305.2L446.5,305.4L445.4,305.5L444.3,305.7L443.2,305.8L442.1,305.9L441.0,306.0L440.0,306.0L438.8,306.0L437.6,306.0L436.4,306.0L435.1,305.9L433.9,305.9L432.9,305.8L432.0,305.7L431.3,305.7Z" fill="#fff"/><circle cx="431.2" cy="307.0" r="1.30" fill="#fff"/>
<path d="M479,220.2 L490.4,226.6 L479.9,232.8 Z" fill="#fff"/>
<circle cx="436.4" cy="330.2" r="1.8" fill="#fff"/>
<circle cx="449.5" cy="325.3" r="2.7" fill="#fff"/>
<circle cx="469" cy="325.3" r="5.6" fill="#fff"/>
<circle cx="458" cy="336.6" r="4" fill="#fff"/>
<circle cx="490" cy="323.6" r="3.1" fill="#fff"/>
<circle cx="482" cy="335.5" r="4.3" fill="#fff"/>
<circle cx="500" cy="329.6" r="2.5" fill="#fff"/>
<circle cx="506.6" cy="322" r="2" fill="#fff"/>
</g>
<circle cx="472.5" cy="192.3" r="2.1" fill="#a9c0c8"/>
<circle cx="466.6" cy="199.2" r="2.7" fill="#a9c0c8"/>
<circle cx="473.8" cy="205.6" r="2.7" fill="#a9c0c8"/>
<path d="M458.6,146.0C458.6,150.0 458.6,162.7 458.6,170.0C458.7,177.3 458.7,185.0 458.9,190.0C459.1,195.0 459.2,196.7 459.7,200.0C460.2,203.3 460.8,206.9 461.7,209.9C462.6,212.9 463.8,215.7 465.1,217.8C466.4,219.9 468.9,221.9 469.6,222.7L469.6,222.7C469.9,223.8 470.4,226.8 471.1,229.6C471.8,232.4 473.4,237.0 474.0,239.5C474.6,242.0 475.1,242.8 475.0,244.5C474.9,246.2 474.6,246.9 473.5,249.4C472.4,251.9 469.9,256.0 468.1,259.3C466.4,262.7 464.6,266.9 463.0,269.5C461.4,272.1 460.7,272.7 458.5,275.2C456.3,277.7 452.8,282.0 450.0,284.4C447.2,286.8 444.6,288.6 442.0,289.4C439.4,290.1 437.4,289.4 434.6,288.9C431.9,288.4 428.9,286.9 425.5,286.2C422.1,285.5 418.2,284.6 414.5,284.7C410.8,284.8 406.7,285.8 403.3,286.6C399.9,287.4 397.2,289.5 394.2,289.6C391.3,289.8 388.5,288.0 385.5,287.5C382.5,287.0 379.5,286.4 376.1,286.5C372.7,286.6 368.6,287.3 365.3,288.2C362.0,289.1 359.0,290.4 356.2,292.1C353.4,293.9 350.5,296.3 348.3,298.7C346.1,301.1 344.5,303.5 343.2,306.3C341.9,309.1 341.2,312.5 340.6,315.6C340.1,318.7 340.0,320.9 339.9,325.0C339.8,329.1 339.9,333.5 339.9,340.0C339.9,346.5 339.9,360.0 339.9,364.0L354.2,364.0C354.2,360.0 354.2,346.3 354.2,340.0C354.2,333.7 354.1,329.5 354.2,326.0C354.3,322.5 354.0,320.9 354.9,318.8C355.8,316.7 357.6,314.6 359.6,313.4C361.6,312.2 364.5,311.5 367.0,311.4C369.5,311.3 372.3,312.4 374.8,313.0C377.3,313.6 379.9,314.7 382.0,315.0C384.1,315.3 385.8,314.1 387.5,314.6C389.2,315.1 390.8,316.0 392.3,317.8C393.8,319.6 394.6,322.4 396.7,325.2C398.8,327.9 401.5,331.4 404.6,334.3C407.7,337.2 411.3,340.1 415.4,342.3C419.4,344.5 424.5,346.3 428.9,347.7C433.2,349.1 436.4,349.9 441.5,350.5C446.6,351.1 454.8,351.7 459.5,351.6C464.2,351.5 466.3,350.6 470.0,350.0C473.7,349.4 477.8,348.8 481.7,347.9C485.6,347.0 489.0,346.0 493.4,344.4C497.8,342.8 501.9,341.7 508.0,338.1C514.1,334.5 523.9,328.0 530.0,322.9C536.1,317.8 540.6,312.6 544.8,307.4C549.0,302.2 552.2,296.8 555.0,291.6C557.8,286.4 560.1,281.3 561.8,276.0C563.5,270.7 564.3,264.3 565.0,260.0C565.7,255.7 565.8,252.9 565.8,250.0C565.8,247.1 565.8,246.2 565.1,242.3C564.4,238.4 563.0,231.0 561.5,226.8C560.0,222.6 558.7,219.9 555.9,217.0C553.1,214.1 548.8,210.9 544.6,209.2C540.4,207.5 534.9,207.0 530.5,206.9C526.1,206.8 522.1,207.6 518.0,208.5C513.9,209.4 510.0,211.2 506.0,212.3C502.0,213.4 497.6,215.1 494.0,215.3C490.4,215.5 485.9,213.9 484.3,213.6L484.3,213.6C484.1,212.3 483.8,208.9 483.2,206.0C482.6,203.1 481.3,199.3 480.5,196.0C479.7,192.7 478.8,190.3 478.2,186.0C477.6,181.7 477.1,176.7 476.8,170.0C476.5,163.3 476.5,150.0 476.4,146.0Z" fill="none" stroke="#4a7684" stroke-width="7.8" stroke-linejoin="round"/>
<path d="M458.6,146.0C458.6,150.0 458.6,162.7 458.6,170.0C458.7,177.3 458.7,185.0 458.9,190.0C459.1,195.0 459.2,196.7 459.7,200.0C460.2,203.3 460.8,206.9 461.7,209.9C462.6,212.9 463.8,215.7 465.1,217.8C466.4,219.9 468.9,221.9 469.6,222.7L469.6,222.7C469.9,223.8 470.4,226.8 471.1,229.6C471.8,232.4 473.4,237.0 474.0,239.5C474.6,242.0 475.1,242.8 475.0,244.5C474.9,246.2 474.6,246.9 473.5,249.4C472.4,251.9 469.9,256.0 468.1,259.3C466.4,262.7 464.6,266.9 463.0,269.5C461.4,272.1 460.7,272.7 458.5,275.2C456.3,277.7 452.8,282.0 450.0,284.4C447.2,286.8 444.6,288.6 442.0,289.4C439.4,290.1 437.4,289.4 434.6,288.9C431.9,288.4 428.9,286.9 425.5,286.2C422.1,285.5 418.2,284.6 414.5,284.7C410.8,284.8 406.7,285.8 403.3,286.6C399.9,287.4 397.2,289.5 394.2,289.6C391.3,289.8 388.5,288.0 385.5,287.5C382.5,287.0 379.5,286.4 376.1,286.5C372.7,286.6 368.6,287.3 365.3,288.2C362.0,289.1 359.0,290.4 356.2,292.1C353.4,293.9 350.5,296.3 348.3,298.7C346.1,301.1 344.5,303.5 343.2,306.3C341.9,309.1 341.2,312.5 340.6,315.6C340.1,318.7 340.0,320.9 339.9,325.0C339.8,329.1 339.9,333.5 339.9,340.0C339.9,346.5 339.9,360.0 339.9,364.0L354.2,364.0C354.2,360.0 354.2,346.3 354.2,340.0C354.2,333.7 354.1,329.5 354.2,326.0C354.3,322.5 354.0,320.9 354.9,318.8C355.8,316.7 357.6,314.6 359.6,313.4C361.6,312.2 364.5,311.5 367.0,311.4C369.5,311.3 372.3,312.4 374.8,313.0C377.3,313.6 379.9,314.7 382.0,315.0C384.1,315.3 385.8,314.1 387.5,314.6C389.2,315.1 390.8,316.0 392.3,317.8C393.8,319.6 394.6,322.4 396.7,325.2C398.8,327.9 401.5,331.4 404.6,334.3C407.7,337.2 411.3,340.1 415.4,342.3C419.4,344.5 424.5,346.3 428.9,347.7C433.2,349.1 436.4,349.9 441.5,350.5C446.6,351.1 454.8,351.7 459.5,351.6C464.2,351.5 466.3,350.6 470.0,350.0C473.7,349.4 477.8,348.8 481.7,347.9C485.6,347.0 489.0,346.0 493.4,344.4C497.8,342.8 501.9,341.7 508.0,338.1C514.1,334.5 523.9,328.0 530.0,322.9C536.1,317.8 540.6,312.6 544.8,307.4C549.0,302.2 552.2,296.8 555.0,291.6C557.8,286.4 560.1,281.3 561.8,276.0C563.5,270.7 564.3,264.3 565.0,260.0C565.7,255.7 565.8,252.9 565.8,250.0C565.8,247.1 565.8,246.2 565.1,242.3C564.4,238.4 563.0,231.0 561.5,226.8C560.0,222.6 558.7,219.9 555.9,217.0C553.1,214.1 548.8,210.9 544.6,209.2C540.4,207.5 534.9,207.0 530.5,206.9C526.1,206.8 522.1,207.6 518.0,208.5C513.9,209.4 510.0,211.2 506.0,212.3C502.0,213.4 497.6,215.1 494.0,215.3C490.4,215.5 485.9,213.9 484.3,213.6L484.3,213.6C484.1,212.3 483.8,208.9 483.2,206.0C482.6,203.1 481.3,199.3 480.5,196.0C479.7,192.7 478.8,190.3 478.2,186.0C477.6,181.7 477.1,176.7 476.8,170.0C476.5,163.3 476.5,150.0 476.4,146.0Z" fill="none" stroke="#fff" stroke-width="3.4" stroke-linejoin="round"/>
<path d="M378.5,289 C384.5,290.8 389.6,294 392.2,299.2 C394.8,294.6 399,291.4 404.6,289.2 L404,286.6 L394.2,288.6 L379,287Z" fill="#fff"/>
<path d="M392.8,299.8 C395.2,295.2 399.4,292 405,289.8" fill="none" stroke="#4a7684" stroke-width="2.3"/>
<path d="M376,312.2 C383,313.4 389.4,309.6 392.2,303.4 C393.2,308.6 394.8,313.4 398,319.8 C399.4,322.6 401,325 402.8,327.4 L399.6,329.4 L395,322.6 L391,317 L386,316 L376,314.6Z" fill="#fff"/>
<path d="M392.7,303.2 C393.7,308.6 395.3,313.6 398.6,320.2 C400,323 401.6,325.4 403.4,327.8" fill="none" stroke="#4a7684" stroke-width="2.3"/>
</g>
<path d="M422.6,229.8 C434,225 450,223.8 466,225.8" fill="none" stroke="#4a7684" stroke-width="6.4" stroke-linecap="butt"/>
<path d="M422.6,229.8 C434,225 450,223.8 466,225.8" fill="none" stroke="#a9c0c8" stroke-width="3.2" stroke-linecap="round"/>
<path d="M488,208 C496,198 507,190 519,185.2" fill="none" stroke="#4a7684" stroke-width="6.4" stroke-linecap="butt"/>
<path d="M488,208 C496,198 507,190 519,185.2" fill="none" stroke="#a9c0c8" stroke-width="3.2" stroke-linecap="round"/>
</g></g>
<text x="357.6" y="200.1" font-size="8.6" fill="#4a7684" stroke="#4a7684" stroke-width="0.35" stroke-linejoin="round" textLength="40.5" lengthAdjust="spacingAndGlyphs">ESOPHAGUS</text>
<path d="M357.6,202.4 H452" stroke="#4a7684" stroke-width="1.3" fill="none"/><circle cx="452.4" cy="202.4" r="1.1" fill="#4a7684"/>
<text x="357.6" y="226.6" font-size="8.6" fill="#4a7684" stroke="#4a7684" stroke-width="0.35" stroke-linejoin="round" textLength="39.5" lengthAdjust="spacingAndGlyphs">DIAPHRAGM</text>
<path d="M357.6,228.6 H425" stroke="#4a7684" stroke-width="1.3" fill="none"/><circle cx="425.3" cy="228.6" r="1.1" fill="#4a7684"/>
<text x="357.6" y="252.9" font-size="8.6" fill="#4a7684" stroke="#4a7684" stroke-width="0.35" stroke-linejoin="round" textLength="33.0" lengthAdjust="spacingAndGlyphs">STOMACH</text>
<path d="M357.6,254.9 H463" stroke="#4a7684" stroke-width="1.3" fill="none"/><circle cx="463.3" cy="254.9" r="1.1" fill="#4a7684"/>
<text x="513.2" y="163.9" font-size="8.6" fill="#4a7684" stroke="#4a7684" stroke-width="0.35" stroke-linejoin="round" textLength="108.5" lengthAdjust="spacingAndGlyphs">LOWER ESOPHAGEAL SPHINCTER</text>
<path d="M622,166.2 H513 L490,198" stroke="#4a7684" stroke-width="1.3" fill="none"/><circle cx="490" cy="198.2" r="1.1" fill="#4a7684"/>
<text x="758.4" y="163.6" font-size="8.6" fill="#4a7684" stroke="#4a7684" stroke-width="0.35" stroke-linejoin="round" textLength="128.6" lengthAdjust="spacingAndGlyphs">LOWER ESOPHAGEAL SPHINCTER OPEN</text>
<text x="782.6" y="172.6" font-size="8.6" fill="#4a7684" stroke="#4a7684" stroke-width="0.35" stroke-linejoin="round" textLength="80.0" lengthAdjust="spacingAndGlyphs">ALLOWING ACID REFLUX</text>
<path d="M899.3,240 V174.7 H754.5 L733,197.5" stroke="#4a7684" stroke-width="1.3" fill="none"/><circle cx="733" cy="197.8" r="1.1" fill="#4a7684"/>
<text x="424.0" y="403.4" font-size="14.2" font-weight="bold" fill="#4a7684" stroke="#4a7684" stroke-width="0.5" stroke-linejoin="round" textLength="57.4" lengthAdjust="spacingAndGlyphs">HEALTHY</text>
<text x="428.3" y="418.4" font-size="12" fill="#4a7684" stroke="#4a7684" stroke-width="0.5" stroke-linejoin="round" textLength="49.5" lengthAdjust="spacingAndGlyphs">STOMACH</text>
<text x="681.0" y="403.4" font-size="14.2" font-weight="bold" fill="#4a7684" stroke="#4a7684" stroke-width="0.5" stroke-linejoin="round" textLength="31.4" lengthAdjust="spacingAndGlyphs">GERD</text>
<text x="671.6" y="418.4" font-size="12" fill="#4a7684" stroke="#4a7684" stroke-width="0.5" stroke-linejoin="round" textLength="49.5" lengthAdjust="spacingAndGlyphs">STOMACH</text>
<text x="861.2" y="418.1" font-size="14.6" font-weight="bold" fill="#4a7684" stroke="#4a7684" stroke-width="0.5" stroke-linejoin="round" textLength="80.0" lengthAdjust="spacingAndGlyphs">ACID REFLUX</text>
<defs><clipPath id="mag"><circle cx="902.3" cy="317.2" r="77"/></clipPath></defs>
<circle cx="902.3" cy="317.2" r="77" fill="#fff"/>
<g clip-path="url(#mag)"><g transform="translate(894,306.7) scale(1.5) translate(-716.3,-213.75)"><g transform="translate(244.7,0)">
<defs><clipPath id="cut3"><rect x="320" y="150.6" width="270" height="208.6"/></clipPath><clipPath id="in3"><path d="M458.6,146.0C458.6,150.0 458.6,162.7 458.6,170.0C458.7,177.3 458.7,185.0 458.9,190.0C459.1,195.0 459.2,196.7 459.7,200.0C460.2,203.3 460.8,206.9 461.7,209.9C462.6,212.9 463.8,215.7 465.1,217.8C466.4,219.9 468.9,221.9 469.6,222.7L469.6,222.7C469.9,223.8 470.4,226.8 471.1,229.6C471.8,232.4 473.4,237.0 474.0,239.5C474.6,242.0 475.1,242.8 475.0,244.5C474.9,246.2 474.6,246.9 473.5,249.4C472.4,251.9 469.9,256.0 468.1,259.3C466.4,262.7 464.6,266.9 463.0,269.5C461.4,272.1 460.7,272.7 458.5,275.2C456.3,277.7 452.8,282.0 450.0,284.4C447.2,286.8 444.6,288.6 442.0,289.4C439.4,290.1 437.4,289.4 434.6,288.9C431.9,288.4 428.9,286.9 425.5,286.2C422.1,285.5 418.2,284.6 414.5,284.7C410.8,284.8 406.7,285.8 403.3,286.6C399.9,287.4 397.2,289.5 394.2,289.6C391.3,289.8 388.5,288.0 385.5,287.5C382.5,287.0 379.5,286.4 376.1,286.5C372.7,286.6 368.6,287.3 365.3,288.2C362.0,289.1 359.0,290.4 356.2,292.1C353.4,293.9 350.5,296.3 348.3,298.7C346.1,301.1 344.5,303.5 343.2,306.3C341.9,309.1 341.2,312.5 340.6,315.6C340.1,318.7 340.0,320.9 339.9,325.0C339.8,329.1 339.9,333.5 339.9,340.0C339.9,346.5 339.9,360.0 339.9,364.0L354.2,364.0C354.2,360.0 354.2,346.3 354.2,340.0C354.2,333.7 354.1,329.5 354.2,326.0C354.3,322.5 354.0,320.9 354.9,318.8C355.8,316.7 357.6,314.6 359.6,313.4C361.6,312.2 364.5,311.5 367.0,311.4C369.5,311.3 372.3,312.4 374.8,313.0C377.3,313.6 379.9,314.7 382.0,315.0C384.1,315.3 385.8,314.1 387.5,314.6C389.2,315.1 390.8,316.0 392.3,317.8C393.8,319.6 394.6,322.4 396.7,325.2C398.8,327.9 401.5,331.4 404.6,334.3C407.7,337.2 411.3,340.1 415.4,342.3C419.4,344.5 424.5,346.3 428.9,347.7C433.2,349.1 436.4,349.9 441.5,350.5C446.6,351.1 454.8,351.7 459.5,351.6C464.2,351.5 466.3,350.6 470.0,350.0C473.7,349.4 477.8,348.8 481.7,347.9C485.6,347.0 489.0,346.0 493.4,344.4C497.8,342.8 501.9,341.7 508.0,338.1C514.1,334.5 523.9,328.0 530.0,322.9C536.1,317.8 540.6,312.6 544.8,307.4C549.0,302.2 552.2,296.8 555.0,291.6C557.8,286.4 560.1,281.3 561.8,276.0C563.5,270.7 564.3,264.3 565.0,260.0C565.7,255.7 565.8,252.9 565.8,250.0C565.8,247.1 565.8,246.2 565.1,242.3C564.4,238.4 563.0,231.0 561.5,226.8C560.0,222.6 558.7,219.9 555.9,217.0C553.1,214.1 548.8,210.9 544.6,209.2C540.4,207.5 534.9,207.0 530.5,206.9C526.1,206.8 522.1,207.6 518.0,208.5C513.9,209.4 510.0,211.2 506.0,212.3C502.0,213.4 497.6,215.1 494.0,215.3C490.4,215.5 485.9,213.9 484.3,213.6L484.3,213.6C484.1,212.3 483.8,208.9 483.2,206.0C482.6,203.1 481.3,199.3 480.5,196.0C479.7,192.7 478.8,190.3 478.2,186.0C477.6,181.7 477.1,176.7 476.8,170.0C476.5,163.3 476.5,150.0 476.4,146.0Z"/></clipPath></defs>
<g clip-path="url(#cut3)">
<path d="M485,208 C490,211 497,210 504,207.5 C512,205 520,203.5 530,203.6 L530,208 L500,216 L484,216Z" fill="#4a7684"/>
<path d="M465,223 C462.4,226.5 462.2,231 463.6,236 C465.2,241 468.6,244.6 472,248.6 L476,246 L471,224Z" fill="#4a7684"/>
<path d="M458.6,146.0C458.6,150.0 458.6,162.7 458.6,170.0C458.7,177.3 458.7,185.0 458.9,190.0C459.1,195.0 459.2,196.7 459.7,200.0C460.2,203.3 460.8,206.9 461.7,209.9C462.6,212.9 463.8,215.7 465.1,217.8C466.4,219.9 468.9,221.9 469.6,222.7L469.6,222.7C469.9,223.8 470.4,226.8 471.1,229.6C471.8,232.4 473.4,237.0 474.0,239.5C474.6,242.0 475.1,242.8 475.0,244.5C474.9,246.2 474.6,246.9 473.5,249.4C472.4,251.9 469.9,256.0 468.1,259.3C466.4,262.7 464.6,266.9 463.0,269.5C461.4,272.1 460.7,272.7 458.5,275.2C456.3,277.7 452.8,282.0 450.0,284.4C447.2,286.8 444.6,288.6 442.0,289.4C439.4,290.1 437.4,289.4 434.6,288.9C431.9,288.4 428.9,286.9 425.5,286.2C422.1,285.5 418.2,284.6 414.5,284.7C410.8,284.8 406.7,285.8 403.3,286.6C399.9,287.4 397.2,289.5 394.2,289.6C391.3,289.8 388.5,288.0 385.5,287.5C382.5,287.0 379.5,286.4 376.1,286.5C372.7,286.6 368.6,287.3 365.3,288.2C362.0,289.1 359.0,290.4 356.2,292.1C353.4,293.9 350.5,296.3 348.3,298.7C346.1,301.1 344.5,303.5 343.2,306.3C341.9,309.1 341.2,312.5 340.6,315.6C340.1,318.7 340.0,320.9 339.9,325.0C339.8,329.1 339.9,333.5 339.9,340.0C339.9,346.5 339.9,360.0 339.9,364.0L354.2,364.0C354.2,360.0 354.2,346.3 354.2,340.0C354.2,333.7 354.1,329.5 354.2,326.0C354.3,322.5 354.0,320.9 354.9,318.8C355.8,316.7 357.6,314.6 359.6,313.4C361.6,312.2 364.5,311.5 367.0,311.4C369.5,311.3 372.3,312.4 374.8,313.0C377.3,313.6 379.9,314.7 382.0,315.0C384.1,315.3 385.8,314.1 387.5,314.6C389.2,315.1 390.8,316.0 392.3,317.8C393.8,319.6 394.6,322.4 396.7,325.2C398.8,327.9 401.5,331.4 404.6,334.3C407.7,337.2 411.3,340.1 415.4,342.3C419.4,344.5 424.5,346.3 428.9,347.7C433.2,349.1 436.4,349.9 441.5,350.5C446.6,351.1 454.8,351.7 459.5,351.6C464.2,351.5 466.3,350.6 470.0,350.0C473.7,349.4 477.8,348.8 481.7,347.9C485.6,347.0 489.0,346.0 493.4,344.4C497.8,342.8 501.9,341.7 508.0,338.1C514.1,334.5 523.9,328.0 530.0,322.9C536.1,317.8 540.6,312.6 544.8,307.4C549.0,302.2 552.2,296.8 555.0,291.6C557.8,286.4 560.1,281.3 561.8,276.0C563.5,270.7 564.3,264.3 565.0,260.0C565.7,255.7 565.8,252.9 565.8,250.0C565.8,247.1 565.8,246.2 565.1,242.3C564.4,238.4 563.0,231.0 561.5,226.8C560.0,222.6 558.7,219.9 555.9,217.0C553.1,214.1 548.8,210.9 544.6,209.2C540.4,207.5 534.9,207.0 530.5,206.9C526.1,206.8 522.1,207.6 518.0,208.5C513.9,209.4 510.0,211.2 506.0,212.3C502.0,213.4 497.6,215.1 494.0,215.3C490.4,215.5 485.9,213.9 484.3,213.6L484.3,213.6C484.1,212.3 483.8,208.9 483.2,206.0C482.6,203.1 481.3,199.3 480.5,196.0C479.7,192.7 478.8,190.3 478.2,186.0C477.6,181.7 477.1,176.7 476.8,170.0C476.5,163.3 476.5,150.0 476.4,146.0Z" fill="#4a7684"/>
<g clip-path="url(#in3)">
<path d="M467.0,228.0C467.5,226.7 469.2,222.1 470.0,220.0C470.8,217.9 471.2,216.2 472.0,215.2C472.8,214.2 473.8,214.1 475.0,214.0C476.2,213.9 477.6,214.0 479.0,214.6C480.4,215.2 482.2,216.2 483.5,217.3C484.8,218.4 485.8,219.6 487.0,221.0C488.2,222.4 489.3,224.2 490.5,226.0C491.7,227.8 492.7,229.8 494.0,231.5C495.3,233.2 496.9,234.9 498.5,236.2C500.1,237.5 501.8,238.5 503.5,239.2C505.2,239.9 507.1,240.3 509.0,240.4C510.9,240.5 512.9,240.2 515.0,239.5C517.1,238.8 519.3,237.5 521.5,236.3C523.7,235.2 525.8,233.7 528.0,232.6C530.2,231.5 532.3,230.5 534.5,229.8C536.7,229.2 538.9,228.7 541.0,228.7C543.1,228.7 545.1,229.0 547.0,229.6C548.9,230.2 550.9,231.2 552.5,232.3C554.1,233.4 555.3,234.6 556.5,236.0C557.7,237.4 558.7,238.8 559.5,240.5C560.3,242.2 560.4,243.8 561.5,246.0C562.6,248.2 564.2,251.3 566.0,254.0C567.8,256.7 571.0,260.7 572.0,262.0L575,262 L575,365 L394.8,365 L394.8,270 L455,270 L460,250 Z" fill="#b3c7ce"/>
<path d="M431.1,308.3L431.8,308.3L432.7,308.4L433.8,308.5L435.0,308.6L436.2,308.7L437.5,308.7L438.8,308.8L440.0,308.8L441.2,308.7L442.3,308.7L443.5,308.6L444.6,308.5L445.8,308.4L447.0,308.2L448.1,308.1L449.3,307.8L450.5,307.6L451.7,307.3L452.8,307.0L454.0,306.6L455.2,306.3L456.3,305.9L457.5,305.5L458.6,305.0L459.7,304.6L460.8,304.1L461.8,303.6L462.9,303.1L463.9,302.5L464.9,302.0L465.9,301.4L466.9,300.8L467.9,300.2L468.8,299.5L469.7,298.8L470.7,298.1L471.6,297.4L472.4,296.7L473.3,296.0L474.1,295.3L475.0,294.6L475.8,293.8L476.6,293.1L477.4,292.3L478.1,291.5L478.9,290.8L479.6,290.0L480.4,289.2L481.1,288.4L481.8,287.6L482.4,286.7L483.1,285.9L483.7,285.1L484.4,284.2L485.0,283.4L485.5,282.6L486.1,281.8L486.7,280.9L487.2,280.1L487.8,279.3L488.3,278.5L488.8,277.6L489.3,276.7L489.8,275.9L490.2,275.0L490.6,274.1L491.0,273.2L491.3,272.3L491.7,271.4L492.0,270.4L492.3,269.5L492.6,268.5L492.8,267.5L493.0,266.5L493.2,265.4L493.4,264.4L493.6,263.3L493.7,262.2L493.8,261.2L493.9,260.1L493.9,259.0L494.0,258.0L494.0,256.9L493.9,255.9L493.9,254.8L493.8,253.8L493.7,252.7L493.6,251.7L493.4,250.7L493.3,249.7L493.1,248.7L492.9,247.8L492.7,246.8L492.4,245.9L492.2,245.0L492.0,244.0L491.8,242.9L491.5,241.9L491.2,240.7L491.0,239.6L490.7,238.5L490.4,237.4L490.1,236.3L489.8,235.3L489.5,234.3L489.2,233.3L488.9,232.4L488.5,231.4L488.2,230.6L487.9,229.8L487.7,229.2L487.5,228.8L483.1,230.4L483.2,230.9L483.5,231.6L483.8,232.3L484.1,233.1L484.4,234.0L484.8,234.9L485.1,235.8L485.4,236.7L485.6,237.6L485.9,238.6L486.2,239.7L486.5,240.7L486.8,241.8L487.1,242.9L487.4,244.0L487.6,245.0L487.9,246.0L488.1,247.0L488.3,247.9L488.6,248.8L488.8,249.6L488.9,250.5L489.1,251.4L489.2,252.3L489.4,253.2L489.5,254.2L489.6,255.1L489.6,256.1L489.7,257.0L489.7,258.0L489.7,259.0L489.7,259.9L489.6,260.8L489.6,261.8L489.5,262.8L489.3,263.8L489.2,264.7L489.0,265.7L488.8,266.6L488.6,267.5L488.4,268.4L488.2,269.2L487.9,270.1L487.6,270.9L487.3,271.7L487.0,272.5L486.6,273.3L486.2,274.1L485.9,274.9L485.4,275.7L485.0,276.5L484.5,277.3L484.0,278.0L483.5,278.8L483.0,279.6L482.5,280.4L481.9,281.2L481.3,282.0L480.8,282.9L480.2,283.7L479.5,284.5L478.9,285.3L478.3,286.0L477.6,286.8L477.0,287.6L476.3,288.3L475.6,289.1L474.9,289.8L474.1,290.6L473.4,291.3L472.6,292.0L471.9,292.7L471.1,293.4L470.2,294.1L469.4,294.8L468.6,295.5L467.7,296.1L466.9,296.8L466.0,297.4L465.1,298.0L464.2,298.6L463.3,299.2L462.3,299.7L461.4,300.2L460.4,300.8L459.4,301.2L458.4,301.7L457.4,302.2L456.4,302.6L455.3,303.0L454.2,303.4L453.1,303.8L452.0,304.1L450.9,304.4L449.8,304.7L448.7,305.0L447.6,305.2L446.5,305.4L445.4,305.5L444.3,305.7L443.2,305.8L442.1,305.9L441.0,306.0L440.0,306.0L438.8,306.0L437.6,306.0L436.4,306.0L435.1,305.9L433.9,305.9L432.9,305.8L432.0,305.7L431.3,305.7Z" fill="#fff"/><circle cx="431.2" cy="307.0" r="1.30" fill="#fff"/>
<path d="M479,220.2 L490.4,226.6 L479.9,232.8 Z" fill="#fff"/>
<circle cx="436.4" cy="330.2" r="1.8" fill="#fff"/>
<circle cx="449.5" cy="325.3" r="2.7" fill="#fff"/>
<circle cx="469" cy="325.3" r="5.6" fill="#fff"/>
<circle cx="458" cy="336.6" r="4" fill="#fff"/>
<circle cx="490" cy="323.6" r="3.1" fill="#fff"/>
<circle cx="482" cy="335.5" r="4.3" fill="#fff"/>
<circle cx="500" cy="329.6" r="2.5" fill="#fff"/>
<circle cx="506.6" cy="322" r="2" fill="#fff"/>
</g>
<circle cx="472.5" cy="192.3" r="2.1" fill="#a9c0c8"/>
<circle cx="466.6" cy="199.2" r="2.7" fill="#a9c0c8"/>
<circle cx="473.8" cy="205.6" r="2.7" fill="#a9c0c8"/>
<path d="M458.6,146.0C458.6,150.0 458.6,162.7 458.6,170.0C458.7,177.3 458.7,185.0 458.9,190.0C459.1,195.0 459.2,196.7 459.7,200.0C460.2,203.3 460.8,206.9 461.7,209.9C462.6,212.9 463.8,215.7 465.1,217.8C466.4,219.9 468.9,221.9 469.6,222.7L469.6,222.7C469.9,223.8 470.4,226.8 471.1,229.6C471.8,232.4 473.4,237.0 474.0,239.5C474.6,242.0 475.1,242.8 475.0,244.5C474.9,246.2 474.6,246.9 473.5,249.4C472.4,251.9 469.9,256.0 468.1,259.3C466.4,262.7 464.6,266.9 463.0,269.5C461.4,272.1 460.7,272.7 458.5,275.2C456.3,277.7 452.8,282.0 450.0,284.4C447.2,286.8 444.6,288.6 442.0,289.4C439.4,290.1 437.4,289.4 434.6,288.9C431.9,288.4 428.9,286.9 425.5,286.2C422.1,285.5 418.2,284.6 414.5,284.7C410.8,284.8 406.7,285.8 403.3,286.6C399.9,287.4 397.2,289.5 394.2,289.6C391.3,289.8 388.5,288.0 385.5,287.5C382.5,287.0 379.5,286.4 376.1,286.5C372.7,286.6 368.6,287.3 365.3,288.2C362.0,289.1 359.0,290.4 356.2,292.1C353.4,293.9 350.5,296.3 348.3,298.7C346.1,301.1 344.5,303.5 343.2,306.3C341.9,309.1 341.2,312.5 340.6,315.6C340.1,318.7 340.0,320.9 339.9,325.0C339.8,329.1 339.9,333.5 339.9,340.0C339.9,346.5 339.9,360.0 339.9,364.0L354.2,364.0C354.2,360.0 354.2,346.3 354.2,340.0C354.2,333.7 354.1,329.5 354.2,326.0C354.3,322.5 354.0,320.9 354.9,318.8C355.8,316.7 357.6,314.6 359.6,313.4C361.6,312.2 364.5,311.5 367.0,311.4C369.5,311.3 372.3,312.4 374.8,313.0C377.3,313.6 379.9,314.7 382.0,315.0C384.1,315.3 385.8,314.1 387.5,314.6C389.2,315.1 390.8,316.0 392.3,317.8C393.8,319.6 394.6,322.4 396.7,325.2C398.8,327.9 401.5,331.4 404.6,334.3C407.7,337.2 411.3,340.1 415.4,342.3C419.4,344.5 424.5,346.3 428.9,347.7C433.2,349.1 436.4,349.9 441.5,350.5C446.6,351.1 454.8,351.7 459.5,351.6C464.2,351.5 466.3,350.6 470.0,350.0C473.7,349.4 477.8,348.8 481.7,347.9C485.6,347.0 489.0,346.0 493.4,344.4C497.8,342.8 501.9,341.7 508.0,338.1C514.1,334.5 523.9,328.0 530.0,322.9C536.1,317.8 540.6,312.6 544.8,307.4C549.0,302.2 552.2,296.8 555.0,291.6C557.8,286.4 560.1,281.3 561.8,276.0C563.5,270.7 564.3,264.3 565.0,260.0C565.7,255.7 565.8,252.9 565.8,250.0C565.8,247.1 565.8,246.2 565.1,242.3C564.4,238.4 563.0,231.0 561.5,226.8C560.0,222.6 558.7,219.9 555.9,217.0C553.1,214.1 548.8,210.9 544.6,209.2C540.4,207.5 534.9,207.0 530.5,206.9C526.1,206.8 522.1,207.6 518.0,208.5C513.9,209.4 510.0,211.2 506.0,212.3C502.0,213.4 497.6,215.1 494.0,215.3C490.4,215.5 485.9,213.9 484.3,213.6L484.3,213.6C484.1,212.3 483.8,208.9 483.2,206.0C482.6,203.1 481.3,199.3 480.5,196.0C479.7,192.7 478.8,190.3 478.2,186.0C477.6,181.7 477.1,176.7 476.8,170.0C476.5,163.3 476.5,150.0 476.4,146.0Z" fill="none" stroke="#4a7684" stroke-width="7.8" stroke-linejoin="round"/>
<path d="M458.6,146.0C458.6,150.0 458.6,162.7 458.6,170.0C458.7,177.3 458.7,185.0 458.9,190.0C459.1,195.0 459.2,196.7 459.7,200.0C460.2,203.3 460.8,206.9 461.7,209.9C462.6,212.9 463.8,215.7 465.1,217.8C466.4,219.9 468.9,221.9 469.6,222.7L469.6,222.7C469.9,223.8 470.4,226.8 471.1,229.6C471.8,232.4 473.4,237.0 474.0,239.5C474.6,242.0 475.1,242.8 475.0,244.5C474.9,246.2 474.6,246.9 473.5,249.4C472.4,251.9 469.9,256.0 468.1,259.3C466.4,262.7 464.6,266.9 463.0,269.5C461.4,272.1 460.7,272.7 458.5,275.2C456.3,277.7 452.8,282.0 450.0,284.4C447.2,286.8 444.6,288.6 442.0,289.4C439.4,290.1 437.4,289.4 434.6,288.9C431.9,288.4 428.9,286.9 425.5,286.2C422.1,285.5 418.2,284.6 414.5,284.7C410.8,284.8 406.7,285.8 403.3,286.6C399.9,287.4 397.2,289.5 394.2,289.6C391.3,289.8 388.5,288.0 385.5,287.5C382.5,287.0 379.5,286.4 376.1,286.5C372.7,286.6 368.6,287.3 365.3,288.2C362.0,289.1 359.0,290.4 356.2,292.1C353.4,293.9 350.5,296.3 348.3,298.7C346.1,301.1 344.5,303.5 343.2,306.3C341.9,309.1 341.2,312.5 340.6,315.6C340.1,318.7 340.0,320.9 339.9,325.0C339.8,329.1 339.9,333.5 339.9,340.0C339.9,346.5 339.9,360.0 339.9,364.0L354.2,364.0C354.2,360.0 354.2,346.3 354.2,340.0C354.2,333.7 354.1,329.5 354.2,326.0C354.3,322.5 354.0,320.9 354.9,318.8C355.8,316.7 357.6,314.6 359.6,313.4C361.6,312.2 364.5,311.5 367.0,311.4C369.5,311.3 372.3,312.4 374.8,313.0C377.3,313.6 379.9,314.7 382.0,315.0C384.1,315.3 385.8,314.1 387.5,314.6C389.2,315.1 390.8,316.0 392.3,317.8C393.8,319.6 394.6,322.4 396.7,325.2C398.8,327.9 401.5,331.4 404.6,334.3C407.7,337.2 411.3,340.1 415.4,342.3C419.4,344.5 424.5,346.3 428.9,347.7C433.2,349.1 436.4,349.9 441.5,350.5C446.6,351.1 454.8,351.7 459.5,351.6C464.2,351.5 466.3,350.6 470.0,350.0C473.7,349.4 477.8,348.8 481.7,347.9C485.6,347.0 489.0,346.0 493.4,344.4C497.8,342.8 501.9,341.7 508.0,338.1C514.1,334.5 523.9,328.0 530.0,322.9C536.1,317.8 540.6,312.6 544.8,307.4C549.0,302.2 552.2,296.8 555.0,291.6C557.8,286.4 560.1,281.3 561.8,276.0C563.5,270.7 564.3,264.3 565.0,260.0C565.7,255.7 565.8,252.9 565.8,250.0C565.8,247.1 565.8,246.2 565.1,242.3C564.4,238.4 563.0,231.0 561.5,226.8C560.0,222.6 558.7,219.9 555.9,217.0C553.1,214.1 548.8,210.9 544.6,209.2C540.4,207.5 534.9,207.0 530.5,206.9C526.1,206.8 522.1,207.6 518.0,208.5C513.9,209.4 510.0,211.2 506.0,212.3C502.0,213.4 497.6,215.1 494.0,215.3C490.4,215.5 485.9,213.9 484.3,213.6L484.3,213.6C484.1,212.3 483.8,208.9 483.2,206.0C482.6,203.1 481.3,199.3 480.5,196.0C479.7,192.7 478.8,190.3 478.2,186.0C477.6,181.7 477.1,176.7 476.8,170.0C476.5,163.3 476.5,150.0 476.4,146.0Z" fill="none" stroke="#fff" stroke-width="3.4" stroke-linejoin="round"/>
<path d="M378.5,289 C384.5,290.8 389.6,294 392.2,299.2 C394.8,294.6 399,291.4 404.6,289.2 L404,286.6 L394.2,288.6 L379,287Z" fill="#fff"/>
<path d="M392.8,299.8 C395.2,295.2 399.4,292 405,289.8" fill="none" stroke="#4a7684" stroke-width="2.3"/>
<path d="M376,312.2 C383,313.4 389.4,309.6 392.2,303.4 C393.2,308.6 394.8,313.4 398,319.8 C399.4,322.6 401,325 402.8,327.4 L399.6,329.4 L395,322.6 L391,317 L386,316 L376,314.6Z" fill="#fff"/>
<path d="M392.7,303.2 C393.7,308.6 395.3,313.6 398.6,320.2 C400,323 401.6,325.4 403.4,327.8" fill="none" stroke="#4a7684" stroke-width="2.3"/>
</g>
<path d="M422.6,229.8 C434,225 450,223.8 466,225.8" fill="none" stroke="#4a7684" stroke-width="6.4" stroke-linecap="butt"/>
<path d="M422.6,229.8 C434,225 450,223.8 466,225.8" fill="none" stroke="#a9c0c8" stroke-width="3.2" stroke-linecap="round"/>
<path d="M488,208 C496,198 507,190 519,185.2" fill="none" stroke="#4a7684" stroke-width="6.4" stroke-linecap="butt"/>
<path d="M488,208 C496,198 507,190 519,185.2" fill="none" stroke="#a9c0c8" stroke-width="3.2" stroke-linecap="round"/>
</g></g></g>
<circle cx="902.3" cy="317.2" r="77" fill="none" stroke="#4a7684" stroke-width="3"/>
<g fill="none" stroke="#4a7684" stroke-linecap="round" stroke-linejoin="round" stroke-width="1.65"><path d="M73.8,494.9 C73.8,488.0 80.1,485.5 88.4,485.5 C96.7,485.5 103.0,488.0 103.0,494.9Z"/><rect x="71.8" y="497.2" width="33.2" height="5.5" rx="2.7"/><path d="M73.8,503.4 H103.0 V505.8 C103.0,508.6 100.6,510.3 98.0,510.3 H78.8 C76.2,510.3 73.8,508.6 73.8,505.8Z"/><path d="M73.8,495.9 H103.0" stroke-width="2.64" stroke-linecap="butt"/><path d="M88.4,497.2 L94.4,500.9 L99.7,497.2" stroke-width="1.32"/><path d="M83.8,490.5 l1.7,-3.0 M90.4,490.5 l1.7,-3.0" stroke-width="1.32"/></g>
<text x="73.9" y="523.2" font-size="8.3" fill="#4a7684" stroke="#4a7684" stroke-width="0.35" stroke-linejoin="round" textLength="28.0" lengthAdjust="spacingAndGlyphs">BAD DIET</text>
<g fill="none" stroke="#4a7684" stroke-linecap="round" stroke-linejoin="round" stroke-width="1.65"><circle cx="164" cy="479" r="3.1"/><path d="M160.4,484.6 H167.8 C169.6,484.6 170.6,485.4 171.4,486.8 L174.6,492.6 L172.6,493.8 L170.2,490 C171.6,495 170.6,498.6 169.6,502 L168.4,509.6 H165.6 L164.1,502.4 L162.6,509.6 H159.8 L158.6,502 C157.6,498.6 156.6,495 158,490 L155.6,493.8 L153.6,492.6 L156.8,486.8 C157.6,485.4 158.6,484.6 160.4,484.6Z"/></g>
<text x="150.7" y="523.2" font-size="8.3" fill="#4a7684" stroke="#4a7684" stroke-width="0.35" stroke-linejoin="round" textLength="26.4" lengthAdjust="spacingAndGlyphs">OBESITY</text>
<g fill="none" stroke="#4a7684" stroke-linecap="round" stroke-linejoin="round" stroke-width="1.65"><path d="M222.8,486 H236.4 V492.6 C236.4,496.4 233.4,499.4 229.6,499.4 C225.8,499.4 222.8,496.4 222.8,492.6Z"/><path d="M222.8,490 H236.4 M229.6,499.4 V509 M224.6,510 C227.6,508.6 231.6,508.6 234.6,510"/><rect x="235" y="502.4" width="16.6" height="3.7" stroke-width="1.45"/><path d="M253.6,502 V506.4 M256.4,502 V506.4" stroke-width="1.45"/><path d="M245,488.6 C244.6,492.4 246.6,495.4 250.4,495.6 C253.6,495.8 255.2,497 255.2,500.4 M248,488.8 C249.6,488 251,488.8 251.4,490.6 C251.8,492.4 253,492.6 254.4,492.6 C256.6,492.8 257,495 257,500.4" stroke-width="1.45"/></g>
<text x="203.0" y="523.2" font-size="8.3" fill="#4a7684" stroke="#4a7684" stroke-width="0.35" stroke-linejoin="round" textLength="73.0" lengthAdjust="spacingAndGlyphs">UNHEALTHY LIFESTYLE</text>
<g fill="none" stroke="#4a7684" stroke-linecap="round" stroke-linejoin="round" stroke-width="1.65"><rect x="70.9" y="540.8" width="12" height="4.4" rx="0.8"/><rect x="68.6" y="545.6" width="16.6" height="20.6" rx="2.6"/><path d="M85.2,553.2 H73.8 V561.2 H85.2"/><rect x="91.4" y="540.8" width="16.8" height="25.4" rx="3.2"/><path d="M94.6,546.2 h3.3 M101.6,546.2 h3.3 M94.6,551 h3.3 M101.6,551 h3.3 M94.6,555.8 h3.3 M101.6,555.8 h3.3 M94.6,560.8 h3.3 M101.6,560.8 h3.3" stroke-width="1.45" stroke-linecap="butt"/></g>
<text x="67.0" y="579.2" font-size="8.3" fill="#4a7684" stroke="#4a7684" stroke-width="0.35" stroke-linejoin="round" textLength="42.7" lengthAdjust="spacingAndGlyphs">MEDICATIONS</text>
<g fill="none" stroke="#4a7684" stroke-linecap="round" stroke-linejoin="round" stroke-width="1.6"><path d="M144.7,545.6 V565.6 M141.6,537 V542.7 C141.6,545.6 147.8,545.6 147.8,542.7 V537 M144.7,537 V542.7"/><path d="M185.8,565.6 V537 C182.4,540.4 182.4,547.9 185.8,551.3"/></g>
<g fill="none" stroke="#4a7684" stroke-linecap="round" stroke-linejoin="round" stroke-width="1.65"><circle cx="165.5" cy="551.3" r="14.4"/><circle cx="165.5" cy="551.3" r="11.2"/><path d="M165.5,544.4 V551.6 L161,547.6" stroke-width="1.45"/></g>
<text x="152.3" y="579.2" font-size="8.3" fill="#4a7684" stroke="#4a7684" stroke-width="0.35" stroke-linejoin="round" textLength="23.0" lengthAdjust="spacingAndGlyphs">EATING</text>
<text x="133.6" y="588.8" font-size="8.3" fill="#4a7684" stroke="#4a7684" stroke-width="0.35" stroke-linejoin="round" textLength="60.2" lengthAdjust="spacingAndGlyphs">CLOSE TO BEDTIME</text>
<g fill="none" stroke="#4a7684" stroke-linecap="round" stroke-linejoin="round" stroke-width="1.65"><circle cx="240" cy="550.4" r="14.8"/><circle cx="245.6" cy="544.2" r="3.7"/><path d="M233.6,537.6 C231.6,542 232.6,546 235.6,548.2 C237.6,545.6 240,545.4 240.6,547.4 C241.2,549.4 238.6,550 238.6,551.6 C241,552.4 243.6,551 245.6,548.6 C248.6,549.6 249,552.6 247.4,555.4 C245,559.6 240,562.6 236,561.6 C233.6,561 234.6,557 232.6,555.6 C230.6,554.6 228.6,557 229.4,554.4 C230.4,552 234,551.6 236,553.6" stroke-width="1.45"/></g>
<text x="220.8" y="579.2" font-size="8.3" fill="#4a7684" stroke="#4a7684" stroke-width="0.35" stroke-linejoin="round" textLength="37.8" lengthAdjust="spacingAndGlyphs">PREGNANCY</text>
<circle cx="397.2" cy="518.6" r="32.5" fill="#ffffff" stroke="#4a7684" stroke-width="2.8"/>
<circle cx="510" cy="518.6" r="32.5" fill="#ffffff" stroke="#4a7684" stroke-width="2.8"/>
<circle cx="614.6" cy="518.6" r="32.5" fill="#ffffff" stroke="#4a7684" stroke-width="2.8"/>
<circle cx="715.8" cy="518.6" r="32.5" fill="#ffffff" stroke="#4a7684" stroke-width="2.8"/>
<circle cx="817.2" cy="518.6" r="32.5" fill="#ffffff" stroke="#4a7684" stroke-width="2.8"/>
<circle cx="916" cy="518.6" r="32.5" fill="#ffffff" stroke="#4a7684" stroke-width="2.8"/>
<g fill="none" stroke="#4a7684" stroke-linecap="round" stroke-linejoin="round" stroke-width="1.6"><path d="M374.6,503.8 H389.4 V529.2 H374.6Z"/><path d="M384.4,503.4 C384.2,500.6 386.6,499.4 387.6,501.6"/><path d="M374.8,517.6 C380,517 385,514.6 389.2,510.8 M374.8,524 C380,523.4 385,521 389.2,517.2" stroke-width="1.55"/></g>
<g fill="none" stroke="#4a7684" stroke-linecap="round" stroke-linejoin="round" stroke-width="1.5"><path d="M395.7,506.9 C395.7,501.7 400.5,499.8 406.8,499.8 C413.1,499.8 417.9,501.7 417.9,506.9Z"/><rect x="394.2" y="508.5" width="25.2" height="4.1" rx="2.0"/><path d="M395.7,513.2 H417.9 V515.1 C417.9,517.1 416.1,518.4 414.1,518.4 H399.5 C397.5,518.4 395.7,517.1 395.7,515.1Z"/><path d="M395.7,507.6 H417.9" stroke-width="2.4000000000000004" stroke-linecap="butt"/><path d="M406.8,508.5 L411.3,511.3 L415.4,508.5" stroke-width="1.2000000000000002"/><path d="M403.3,503.5 l1.3,-2.2 M408.3,503.5 l1.3,-2.2" stroke-width="1.2000000000000002"/></g>
<g fill="none" stroke="#4a7684" stroke-linecap="round" stroke-linejoin="round" stroke-width="1.6"><path d="M393.6,535.4 C399,536.4 405.5,534.8 410,530.8 C411.5,529.4 413,528 414.2,528.5 C415.4,529.1 414.8,531.4 413.8,532.6 C409.8,537.2 400.6,539.6 393.6,535.4Z M414,528.4 C415,527.2 416.2,526.8 417.4,526.4"/></g>
<path d="M420.4,496.0 L374.4,542.0" stroke="#4a7684" stroke-width="2.6" fill="none"/>
<text x="356.2" y="568.0" font-size="9.8" fill="#4a7684" stroke="#4a7684" stroke-width="0.35" stroke-linejoin="round" textLength="82.0" lengthAdjust="spacingAndGlyphs">AVOID TRIGGER FOOD</text>
<g fill="none" stroke="#4a7684" stroke-linecap="round" stroke-linejoin="round" stroke-width="1.55"><path d="M490.6,512.8 V533.4 M487.5,504 V509.9 C487.5,512.8 493.7,512.8 493.7,509.9 V504 M490.6,504 V509.9"/><path d="M531.6,533.4 V504 C528.2,507.5 528.2,515.2 531.6,518.7"/></g>
<g fill="none" stroke="#4a7684" stroke-linecap="round" stroke-linejoin="round" stroke-width="1.6"><circle cx="511" cy="518.7" r="13.8"/><circle cx="511" cy="518.7" r="9.8"/><path d="M510.6,521.6 C507,521.6 505,519 505,516 C508.4,516 510.6,518 510.6,521.6Z M511.6,521.6 C515.2,521.6 517.2,519 517.2,516 C513.8,516 511.6,518 511.6,521.6Z" stroke-width="1.4"/></g>
<text x="470.0" y="568.0" font-size="9.8" fill="#4a7684" stroke="#4a7684" stroke-width="0.35" stroke-linejoin="round" textLength="79.4" lengthAdjust="spacingAndGlyphs">HAVE SMALL MEALS</text>
<g fill="none" stroke="#4a7684" stroke-linecap="round" stroke-linejoin="round" stroke-width="1.6"><path d="M603,497 H626.8 V507 C626.8,514.2 621.6,519.6 614.9,519.6 C608.2,519.6 603,514.2 603,507Z"/><path d="M603,504.7 H626.8 M614.9,519.6 V536.6 M606.4,539.8 C611.4,537.4 618.4,537.4 623.4,539.8"/></g>
<path d="M637.8,496.0 L591.8,542.0" stroke="#4a7684" stroke-width="2.6" fill="none"/>
<text x="584.0" y="568.0" font-size="9.8" fill="#4a7684" stroke="#4a7684" stroke-width="0.35" stroke-linejoin="round" textLength="61.0" lengthAdjust="spacingAndGlyphs">AVOID ALCOHOL</text>
<g fill="none" stroke="#4a7684" stroke-linecap="round" stroke-linejoin="round" stroke-width="1.55"><rect x="695.4" y="503" width="3.4" height="29.4"/><rect x="733.2" y="508" width="3.6" height="24.4"/><rect x="698.8" y="517.2" width="34.4" height="7"/><rect x="711.4" y="508" width="21.8" height="9.2"/><circle cx="703.8" cy="511" r="3.3"/><path d="M699.4,517 C700.4,515 707,515 708.2,517"/></g>
<path d="M739.0,496.0 L693.0,542.0" stroke="#4a7684" stroke-width="2.6" fill="none"/>
<text x="679.7" y="568.0" font-size="9.8" fill="#4a7684" stroke="#4a7684" stroke-width="0.35" stroke-linejoin="round" textLength="72.3" lengthAdjust="spacingAndGlyphs">DO NOT LAY DOWN</text>
<text x="688.5" y="579.2" font-size="9.8" fill="#4a7684" stroke="#4a7684" stroke-width="0.35" stroke-linejoin="round" textLength="54.8" lengthAdjust="spacingAndGlyphs">AFTER MEALS</text>
<g fill="none" stroke="#4a7684" stroke-linecap="round" stroke-linejoin="round" stroke-width="1.55"><rect x="797" y="525.4" width="33.4" height="6.4"/><path d="M833.4,525.4 V531.8 M836.8,525.4 V531.8"/><path d="M815,497.6 C814.4,503.6 817.6,508.6 823.6,509 C829.6,509.2 833.2,510.6 833.2,516 V522.6 M820,497.8 C823,497 825,498.6 825.6,501.4 C826.2,504.4 828,505.2 830.4,505.4 C835.4,505.8 836.8,509.6 836.8,514 V522.6"/></g>
<path d="M840.4,496.0 L794.4,542.0" stroke="#4a7684" stroke-width="2.6" fill="none"/>
<text x="787.0" y="568.0" font-size="9.8" fill="#4a7684" stroke="#4a7684" stroke-width="0.35" stroke-linejoin="round" textLength="60.3" lengthAdjust="spacingAndGlyphs">STOP SMOKING</text>
<g fill="none" stroke="#4a7684" stroke-linecap="round" stroke-linejoin="round" stroke-width="1.6"><path d="M908.6,504.4 H902.8 C899.6,504.4 898.4,506.4 898.6,509 C899.2,516 899.2,526 899.6,533 C899.8,536 901.4,537.4 904.4,537.4 H927 C930,537.4 931.6,536 931.8,533 C932.2,526 932.2,516 932.8,509 C933,506.4 931.8,504.4 928.6,504.4 H922"/><circle cx="915.3" cy="503.2" r="6.9"/><path d="M915,504.6 L917.2,500" stroke-width="1.6"/><path d="M907.2,521.4 H924.2 L915.7,529.8Z"/></g>
<text x="889.4" y="568.0" font-size="9.8" fill="#4a7684" stroke="#4a7684" stroke-width="0.35" stroke-linejoin="round" textLength="51.8" lengthAdjust="spacingAndGlyphs">LOSE WEIGHT</text>
<defs><clipPath id="hic"><circle cx="958.1" cy="41.9" r="26"/></clipPath></defs>
<g clip-path="url(#hic)"><path d="M958.4,15 L959,32" stroke="#4a7684" stroke-width="3.2" fill="none"/><path d="M959.4,31.8 C962,30.6 966,29.8 969.8,30.8 C974.5,32.2 976.8,35.6 976.3,39.6 C975.5,46 971,51.6 965,54.7 C959,57.6 951.5,56.6 947.6,52.7 C946,51 945.3,49.4 945.1,47.7 C947.5,45.7 950,46.6 953,46 C956.5,45.3 958.3,43 958.6,40 C958.9,37 960,34.6 959.4,31.8Z" fill="#b3c7ce" stroke="#4a7684" stroke-width="2.2" stroke-linejoin="round"/><path d="M946.4,48.2 C943,46.6 939.6,46.8 937.5,48.6 C935.6,50.2 934.6,52.4 933.6,55.6" stroke="#4a7684" stroke-width="3.6" fill="none"/></g>
<g fill="#ffffff" fill-opacity="0.34" stroke="#55666c" stroke-opacity="0.13" stroke-width="1.1" paint-order="stroke" font-size="27">
<text transform="translate(255,110) rotate(-38.7)" textLength="158" lengthAdjust="spacingAndGlyphs">depositphotos</text>
<text transform="translate(761,110) rotate(-38.7)" textLength="158" lengthAdjust="spacingAndGlyphs">depositphotos</text>
<text transform="translate(2,325) rotate(-38.7)" textLength="158" lengthAdjust="spacingAndGlyphs">depositphotos</text>
<text transform="translate(508,325) rotate(-38.7)" textLength="158" lengthAdjust="spacingAndGlyphs">depositphotos</text>
<text transform="translate(1014,325) rotate(-38.7)" textLength="158" lengthAdjust="spacingAndGlyphs">depositphotos</text>
<text transform="translate(255,539) rotate(-38.7)" textLength="158" lengthAdjust="spacingAndGlyphs">depositphotos</text>
<text transform="translate(761,539) rotate(-38.7)" textLength="158" lengthAdjust="spacingAndGlyphs">depositphotos</text>
</g>
<rect x="0" y="638.5" width="1024" height="7" fill="#4c7886"/>
<rect x="0" y="645" width="1024" height="64" fill="#323232"/>
<text x="908.5" y="633.8" font-size="8.6" fill="#5b8391" textLength="78.8" lengthAdjust="spacingAndGlyphs">MEDICAL INFOGRAPHIC</text>
<circle cx="43.3" cy="677.1" r="17.8" fill="#ffffff"/>
<path d="M35.2,670 H40.4 L41.8,667.4 H49.8 L51.2,670 H58 C59.4,670 60.4,671 60.4,672.4 V685.6 C60.4,687 59.4,688 58,688 H35.2 C33.8,688 32.8,687 32.8,685.6 V672.4 C32.8,671 33.8,670 35.2,670Z" fill="#323232" stroke="#ffffff" stroke-width="0.9"/>
<circle cx="45.5" cy="678.6" r="6.6" fill="none" stroke="#ffffff" stroke-width="1.1"/><circle cx="45.5" cy="678.6" r="4.4" fill="none" stroke="#ffffff" stroke-width="1.2"/><rect x="53.8" y="672.4" width="3.2" height="1.9" fill="#ffffff"/>
<text x="65.5" y="685.0" font-size="27" font-weight="bold" fill="#ffffff" textLength="157.5" lengthAdjust="spacingAndGlyphs" letter-spacing="-1">depositphotos</text>
<text x="712.0" y="680.8" font-size="13.7" fill="#ffffff" textLength="122.5" lengthAdjust="spacingAndGlyphs">Image ID: 156291734</text>
<rect x="846" y="667" width="1" height="21" fill="#6a6a6a"/>
<text x="859.5" y="680.8" font-size="13.7" fill="#ffffff" textLength="139.5" lengthAdjust="spacingAndGlyphs">www.depositphotos.com</text>
</svg>
</body></html>
